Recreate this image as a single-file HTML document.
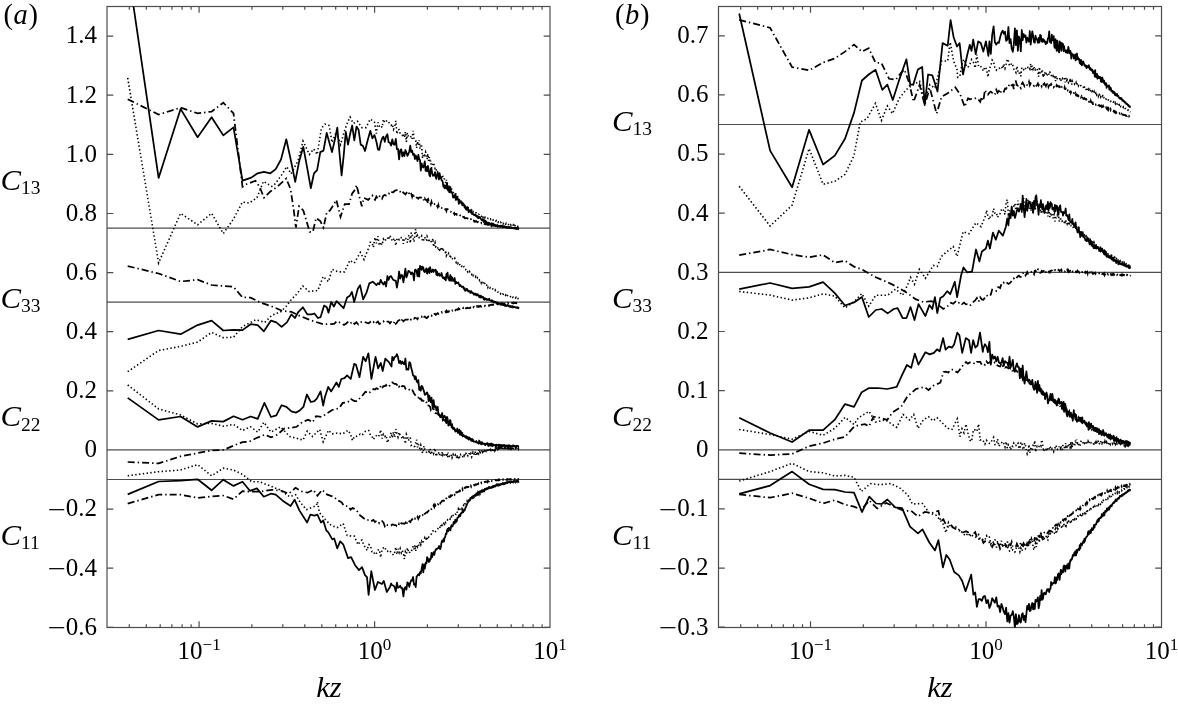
<!DOCTYPE html><html><head><meta charset="utf-8"><title>Figure</title><style>html,body{margin:0;padding:0;background:#fff;}svg{display:block;}text{font-family:"Liberation Serif","Times New Roman",serif;fill:#000;}</style></head><body>
<svg width="1178" height="706" viewBox="0 0 1178 706">
<rect x="0" y="0" width="1178" height="706" fill="#fff"/>
<defs>
<clipPath id="ca"><rect x="107.0" y="6.5" width="443.0" height="621.0"/></clipPath>
<clipPath id="cb"><rect x="718.5" y="6.5" width="443.0" height="621.0"/></clipPath>
</defs>
<g stroke="#4d4d4d" stroke-width="1.20" fill="none">
<rect x="107.0" y="6.5" width="443.0" height="621.0"/>
<path d="M107.0 36.1h6.3M550.0 36.1h-6.3M107.0 95.2h6.3M550.0 95.2h-6.3M107.0 154.3h6.3M550.0 154.3h-6.3M107.0 213.5h6.3M550.0 213.5h-6.3M107.0 272.6h6.3M550.0 272.6h-6.3M107.0 331.7h6.3M550.0 331.7h-6.3M107.0 390.8h6.3M550.0 390.8h-6.3M107.0 449.9h6.3M550.0 449.9h-6.3M107.0 509.1h6.3M550.0 509.1h-6.3M107.0 568.2h6.3M550.0 568.2h-6.3M107.0 627.3h6.3M550.0 627.3h-6.3M129.3 627.5v-3.3M129.3 6.5v3.3M146.3 627.5v-3.3M146.3 6.5v3.3M160.2 627.5v-3.3M160.2 6.5v3.3M171.9 627.5v-3.3M171.9 6.5v3.3M182.1 627.5v-3.3M182.1 6.5v3.3M191.1 627.5v-3.3M191.1 6.5v3.3M199.1 627.5v-6.3M199.1 6.5v6.3M251.9 627.5v-3.3M251.9 6.5v3.3M282.8 627.5v-3.3M282.8 6.5v3.3M304.8 627.5v-3.3M304.8 6.5v3.3M321.8 627.5v-3.3M321.8 6.5v3.3M335.7 627.5v-3.3M335.7 6.5v3.3M347.4 627.5v-3.3M347.4 6.5v3.3M357.6 627.5v-3.3M357.6 6.5v3.3M366.6 627.5v-3.3M366.6 6.5v3.3M374.6 627.5v-6.3M374.6 6.5v6.3M427.4 627.5v-3.3M427.4 6.5v3.3M458.3 627.5v-3.3M458.3 6.5v3.3M480.3 627.5v-3.3M480.3 6.5v3.3M497.3 627.5v-3.3M497.3 6.5v3.3M511.2 627.5v-3.3M511.2 6.5v3.3M522.9 627.5v-3.3M522.9 6.5v3.3M533.1 627.5v-3.3M533.1 6.5v3.3M542.1 627.5v-3.3M542.1 6.5v3.3M107.0 228.2H550.0M107.0 302.1H550.0M107.0 449.9H550.0M107.0 479.5H550.0"/>
</g>
<g stroke="#4d4d4d" stroke-width="1.20" fill="none">
<rect x="718.5" y="6.5" width="443.0" height="621.0"/>
<path d="M718.5 35.8h6.3M1161.5 35.8h-6.3M718.5 94.9h6.3M1161.5 94.9h-6.3M718.5 154.1h6.3M1161.5 154.1h-6.3M718.5 213.2h6.3M1161.5 213.2h-6.3M718.5 272.4h6.3M1161.5 272.4h-6.3M718.5 331.5h6.3M1161.5 331.5h-6.3M718.5 390.6h6.3M1161.5 390.6h-6.3M718.5 449.8h6.3M1161.5 449.8h-6.3M718.5 508.9h6.3M1161.5 508.9h-6.3M718.5 568.1h6.3M1161.5 568.1h-6.3M718.5 627.2h6.3M1161.5 627.2h-6.3M740.7 627.5v-3.3M740.7 6.5v3.3M757.7 627.5v-3.3M757.7 6.5v3.3M771.6 627.5v-3.3M771.6 6.5v3.3M783.3 627.5v-3.3M783.3 6.5v3.3M793.5 627.5v-3.3M793.5 6.5v3.3M802.5 627.5v-3.3M802.5 6.5v3.3M810.5 627.5v-6.3M810.5 6.5v6.3M863.3 627.5v-3.3M863.3 6.5v3.3M894.2 627.5v-3.3M894.2 6.5v3.3M916.2 627.5v-3.3M916.2 6.5v3.3M933.2 627.5v-3.3M933.2 6.5v3.3M947.1 627.5v-3.3M947.1 6.5v3.3M958.8 627.5v-3.3M958.8 6.5v3.3M969.0 627.5v-3.3M969.0 6.5v3.3M978.0 627.5v-3.3M978.0 6.5v3.3M986.0 627.5v-6.3M986.0 6.5v6.3M1038.8 627.5v-3.3M1038.8 6.5v3.3M1069.7 627.5v-3.3M1069.7 6.5v3.3M1091.7 627.5v-3.3M1091.7 6.5v3.3M1108.7 627.5v-3.3M1108.7 6.5v3.3M1122.6 627.5v-3.3M1122.6 6.5v3.3M1134.3 627.5v-3.3M1134.3 6.5v3.3M1144.5 627.5v-3.3M1144.5 6.5v3.3M1153.5 627.5v-3.3M1153.5 6.5v3.3M718.5 124.5H1161.5M718.5 272.4H1161.5M718.5 449.8H1161.5M718.5 479.4H1161.5"/>
</g>
<g clip-path="url(#ca)">
<polyline fill="none" stroke="#000" stroke-width="1.75" stroke-linejoin="round" points="127.7,-33.5 158.6,177.9 180.6,108.9 197.6,137.2 211.6,117.2 223.3,135.4 233.5,127.4 242.5,180.6 251.3,177.6 257.6,173.3 264.0,171.8 270.4,173.3 275.7,169.1 281.0,159.5 286.3,139.3 291.6,163.8 295.2,181.8 299.1,161.6 303.3,146.8 307.6,170.1 310.8,188.2 314.0,173.3 317.1,170.1 320.3,152.1 323.5,150.6 326.7,132.9 329.9,144.6 332.0,152.1 335.2,138.3 337.3,127.6 339.5,153.1 341.6,175.5 343.7,155.3 345.8,131.9 348.0,144.6 350.1,134.0 352.2,125.5 354.3,140.4 356.5,126.6 358.6,129.8 360.7,144.6 362.8,145.7 365.0,151.0 367.1,142.5 370.3,130.8 372.4,138.3 374.5,135.1 376.6,142.5 377.9,149.4 379.3,149.9 380.7,142.8 382.1,138.4 383.4,136.6 384.8,141.8 386.1,136.4 387.4,134.2 388.6,142.3 389.9,142.8 391.1,145.5 392.3,139.4 393.5,144.4 394.6,144.8 395.8,138.8 396.9,149.2 398.0,149.0 399.1,159.4 400.2,150.1 401.3,149.3 402.3,156.4 403.4,152.4 404.4,156.0 405.4,150.0 406.4,152.4 407.4,155.8 408.4,154.0 409.3,151.2 410.3,145.6 411.2,152.2 412.1,150.6 413.1,154.8 414.0,153.9 414.9,159.1 415.7,155.4 416.6,157.8 417.5,161.1 418.3,154.8 419.2,159.1 420.0,160.0 420.8,170.7 421.6,163.3 422.5,166.9 423.3,167.5 424.0,165.0 424.8,161.4 425.6,170.9 426.4,167.0 427.1,171.4 427.9,165.8 428.6,169.3 429.4,175.2 430.1,176.4 430.8,168.6 431.5,169.0 432.2,173.2 432.9,175.9 433.6,174.7 434.3,175.5 435.0,172.2 435.7,177.1 436.4,178.9 437.0,175.0 437.7,172.7 438.4,174.9 439.0,179.5 439.6,173.2 440.3,178.2 440.9,176.8 441.5,180.0 442.2,180.6 442.8,182.2 443.4,186.9 444.0,185.1 444.6,188.3 445.2,185.5 445.8,185.5 446.4,188.5 447.0,182.8 447.6,189.3 448.1,190.5 448.7,187.9 449.3,192.3 449.8,190.6 450.4,187.2 451.0,192.5 451.5,191.5 452.1,193.0 452.6,194.3 453.1,197.6 453.7,195.9 454.2,196.2 454.7,197.5 455.3,193.9 455.8,200.0 456.3,196.4 456.8,199.6 457.3,197.4 457.8,198.2 458.3,199.7 458.8,203.9 459.3,202.4 459.8,200.9 460.3,201.9 460.8,201.1 461.3,203.2 461.8,202.9 462.3,205.3 462.7,202.8 463.2,204.7 463.7,204.5 464.1,205.2 464.6,207.5 465.1,207.2 465.5,208.3 466.0,209.4 466.4,209.7 466.9,207.1 467.3,209.7 467.8,207.5 468.2,209.8 468.7,212.3 469.1,210.4 469.5,210.6 470.0,211.5 470.4,211.7 470.8,212.0 471.2,211.7 471.7,213.7 472.1,213.9 472.5,213.1 472.9,213.9 473.3,214.4 473.7,214.9 474.2,214.7 474.6,215.2 475.0,214.7 475.4,214.4 475.8,215.0 476.2,216.4 476.6,216.6 477.0,216.3 477.4,216.0 477.7,216.9 478.1,218.1 478.5,218.1 478.9,216.9 479.3,217.6 479.7,216.9 480.0,217.3 480.4,218.5 480.8,218.6 481.2,219.5 481.5,219.9 481.9,219.9 482.3,220.4 482.6,219.4 483.0,219.3 483.4,220.5 483.7,222.0 484.1,220.9 484.5,220.1 484.8,221.2 485.2,222.1 485.5,220.8 485.9,222.1 486.2,221.5 486.6,222.8 486.9,222.7 487.3,222.6 487.6,223.8 487.9,222.6 488.3,222.6 488.6,224.3 489.0,222.9 489.3,224.8 489.6,223.8 490.0,223.4 490.3,224.1 490.6,224.2 490.9,224.3 491.3,224.2 491.6,224.9 491.9,223.2 492.2,224.2 492.6,224.5 492.9,225.6 493.2,223.7 493.5,224.6 493.8,224.3 494.2,224.6 494.5,225.3 494.8,225.3 495.1,225.9 495.4,225.0 495.7,225.4 496.0,225.9 496.3,225.9 496.6,225.4 496.9,226.1 497.2,225.2 497.5,226.6 497.8,225.9 498.1,225.8 498.4,226.1 498.7,226.4 499.0,226.8 499.3,226.1 499.6,226.1 499.9,226.5 500.2,226.0 500.5,225.6 500.8,226.7 501.1,226.3 501.3,226.9 501.6,226.1 501.9,225.6 502.2,226.7 502.5,226.7 502.8,227.3 503.0,226.9 503.3,226.8 503.6,227.0 503.9,226.6 504.2,226.8 504.4,226.3 504.7,227.1 505.0,226.6 505.2,226.8 505.5,227.2 505.8,227.3 506.1,226.7 506.3,227.8 506.6,226.9 506.9,227.4 507.1,227.5 507.4,227.3 507.7,227.3 507.9,227.9 508.2,227.6 508.4,227.5 508.7,226.8 509.0,227.2 509.2,227.8 509.5,227.5 509.7,227.2 510.0,227.3 510.2,227.5 510.5,227.8 510.8,227.7 511.0,227.9 511.3,227.5 511.5,228.0 511.8,227.6 512.0,227.7 512.3,228.3 512.5,227.9 512.7,227.9 513.0,227.9 513.2,227.9 513.5,228.4 513.7,228.4 514.0,228.2 514.2,228.1 514.5,228.4 514.7,228.1 514.9,228.3 515.2,228.3 515.4,228.3 515.6,228.6 515.9,228.7 516.1,228.6 516.4,227.9 516.6,228.8 516.8,228.6 517.1,228.4 517.3,228.5 517.5,228.7 517.8,228.8 518.0,228.7 518.2,228.6 518.4,228.6 518.7,228.8 518.9,228.7"/>
<polyline fill="none" stroke="#000" stroke-width="1.6" stroke-dasharray="1.4 2.4" points="127.7,77.9 158.6,262.9 180.6,213.3 197.6,224.8 211.6,213.3 223.3,233.6 233.5,219.0 242.5,202.0 249.1,203.1 257.0,197.7 263.4,181.4 271.9,186.4 275.4,183.6 282.5,173.7 286.7,166.6 291.0,173.7 298.0,160.9 303.0,141.1 309.4,154.5 313.7,148.9 317.2,154.5 321.4,128.3 325.0,124.1 329.2,125.5 332.0,142.5 336.3,131.9 340.5,144.6 344.8,129.8 348.0,121.3 350.1,117.0 353.3,123.4 357.5,121.3 361.8,127.6 366.0,127.6 370.3,119.1 374.5,122.3 376.4,133.6 377.9,122.4 379.3,126.1 380.7,125.1 382.1,127.5 383.4,119.3 384.8,122.7 386.1,121.4 387.4,120.4 388.6,122.0 389.9,123.9 391.1,125.4 392.3,124.0 393.5,129.4 394.6,126.7 395.8,120.9 396.9,134.0 398.0,129.7 399.1,129.6 400.2,134.1 401.3,135.1 402.3,135.5 403.4,133.5 404.4,137.6 405.4,131.9 406.4,141.8 407.4,132.9 408.4,136.3 409.3,137.1 410.3,137.7 411.2,136.2 412.1,138.8 413.1,130.8 414.0,139.1 414.9,140.2 415.7,140.6 416.6,148.0 417.5,141.3 418.3,145.4 419.2,140.5 420.0,148.9 420.8,144.2 421.6,145.7 422.5,158.4 423.3,154.6 424.0,153.7 424.8,155.3 425.6,152.1 426.4,154.3 427.1,159.2 427.9,153.9 428.6,160.8 429.4,157.0 430.1,162.4 430.8,160.5 431.5,167.8 432.2,167.1 432.9,164.6 433.6,162.7 434.3,165.9 435.0,168.3 435.7,167.4 436.4,170.6 437.0,172.7 437.7,171.7 438.4,171.9 439.0,174.7 439.6,173.7 440.3,176.3 440.9,175.3 441.5,179.0 442.2,177.0 442.8,176.6 443.4,179.1 444.0,178.8 444.6,179.2 445.2,181.0 445.8,183.0 446.4,179.9 447.0,183.4 447.6,184.0 448.1,184.7 448.7,186.6 449.3,184.8 449.8,187.9 450.4,187.5 451.0,188.6 451.5,188.9 452.1,189.5 452.6,190.0 453.1,191.6 453.7,194.0 454.2,193.6 454.7,194.0 455.3,194.4 455.8,194.1 456.3,195.7 456.8,197.6 457.3,195.3 457.8,197.8 458.3,198.5 458.8,198.6 459.3,199.6 459.8,200.6 460.3,201.8 460.8,201.8 461.3,202.6 461.8,202.2 462.3,203.2 462.7,203.3 463.2,204.0 463.7,204.1 464.1,205.4 464.6,206.5 465.1,205.8 465.5,206.4 466.0,207.0 466.4,207.0 466.9,207.9 467.3,207.8 467.8,207.3 468.2,207.7 468.7,209.1 469.1,209.4 469.5,209.9 470.0,209.8 470.4,210.1 470.8,209.4 471.2,211.4 471.7,210.4 472.1,211.8 472.5,210.8 472.9,211.3 473.3,211.9 473.7,211.8 474.2,211.9 474.6,212.9 475.0,213.0 475.4,213.1 475.8,212.9 476.2,212.9 476.6,213.3 477.0,213.4 477.4,213.9 477.7,214.4 478.1,214.2 478.5,214.1 478.9,214.4 479.3,215.3 479.7,215.1 480.0,215.3 480.4,215.5 480.8,215.8 481.2,215.8 481.5,216.4 481.9,216.4 482.3,215.4 482.6,216.3 483.0,217.4 483.4,216.2 483.7,216.9 484.1,217.3 484.5,217.1 484.8,217.7 485.2,217.0 485.5,217.1 485.9,217.6 486.2,217.6 486.6,217.6 486.9,218.3 487.3,218.3 487.6,218.4 487.9,218.4 488.3,218.7 488.6,218.7 489.0,218.7 489.3,219.2 489.6,219.3 490.0,219.3 490.3,219.7 490.6,219.2 490.9,219.6 491.3,219.6 491.6,220.3 491.9,220.1 492.2,220.7 492.6,220.7 492.9,220.1 493.2,220.0 493.5,220.6 493.8,220.5 494.2,220.6 494.5,220.4 494.8,221.0 495.1,221.0 495.4,221.1 495.7,221.2 496.0,220.9 496.3,220.6 496.6,221.3 496.9,221.3 497.2,221.4 497.5,221.9 497.8,221.7 498.1,222.3 498.4,222.0 498.7,222.2 499.0,222.3 499.3,222.4 499.6,222.0 499.9,222.7 500.2,222.5 500.5,222.2 500.8,222.7 501.1,222.7 501.3,223.1 501.6,223.0 501.9,223.0 502.2,222.5 502.5,223.4 502.8,223.4 503.0,223.3 503.3,223.3 503.6,223.6 503.9,223.1 504.2,223.6 504.4,223.5 504.7,223.3 505.0,223.7 505.2,223.7 505.5,224.1 505.8,224.0 506.1,223.4 506.3,223.4 506.6,224.0 506.9,224.0 507.1,223.9 507.4,223.8 507.7,224.2 507.9,224.0 508.2,224.2 508.4,224.6 508.7,224.5 509.0,224.4 509.2,224.3 509.5,224.6 509.7,225.1 510.0,224.7 510.2,225.2 510.5,224.7 510.8,224.9 511.0,225.2 511.3,224.9 511.5,225.1 511.8,224.9 512.0,225.4 512.3,225.6 512.5,225.2 512.7,225.5 513.0,225.4 513.2,225.1 513.5,226.1 513.7,225.8 514.0,225.9 514.2,225.9 514.5,225.9 514.7,226.4 514.9,225.6 515.2,225.9 515.4,226.0 515.6,226.1 515.9,226.3 516.1,226.1 516.4,226.0 516.6,226.1 516.8,226.5 517.1,226.6 517.3,226.7 517.5,226.9 517.8,226.5 518.0,226.9 518.2,226.8 518.4,226.7 518.7,226.7 518.9,227.0"/>
<polyline fill="none" stroke="#000" stroke-width="1.75" stroke-dasharray="7 3 1.4 3" points="127.7,99.2 158.6,114.6 180.6,107.7 197.6,113.3 211.6,111.6 223.3,102.7 233.5,113.3 242.5,186.8 247.0,184.0 255.5,180.8 259.8,187.1 264.0,197.8 270.4,191.4 276.8,187.1 286.3,178.6 290.6,189.3 293.8,210.5 295.9,227.5 299.1,206.3 303.3,210.5 309.7,231.8 312.9,231.8 316.1,218.0 320.3,221.1 323.5,227.5 326.7,212.6 329.9,210.5 334.1,204.1 336.3,199.9 340.5,216.9 344.8,204.1 349.0,204.1 352.2,193.5 355.4,189.3 356.5,185.0 358.6,193.5 361.8,206.3 363.9,197.8 368.2,199.9 372.4,195.6 373.4,198.1 375.0,199.9 376.4,196.5 377.9,198.8 379.3,196.5 380.7,196.0 382.1,198.6 383.4,195.7 384.8,194.9 386.1,195.5 387.4,195.5 388.6,193.5 389.9,193.9 391.1,191.6 392.3,192.3 393.5,192.1 394.6,190.8 395.8,190.4 396.9,190.2 398.0,191.9 399.1,191.9 400.2,191.7 401.3,192.4 402.3,191.0 403.4,192.8 404.4,193.5 405.4,194.4 406.4,192.8 407.4,193.6 408.4,191.9 409.3,194.0 410.3,192.2 411.2,193.5 412.1,196.8 413.1,193.2 414.0,197.0 414.9,196.8 415.7,196.3 416.6,197.5 417.5,197.8 418.3,198.7 419.2,197.5 420.0,197.4 420.8,197.7 421.6,197.6 422.5,199.1 423.3,198.7 424.0,201.0 424.8,198.5 425.6,199.7 426.4,200.3 427.1,199.7 427.9,203.7 428.6,200.2 429.4,202.3 430.1,202.4 430.8,204.5 431.5,201.8 432.2,204.5 432.9,203.4 433.6,204.1 434.3,204.0 435.0,205.2 435.7,204.3 436.4,205.3 437.0,205.9 437.7,207.2 438.4,204.9 439.0,207.6 439.6,207.6 440.3,207.1 440.9,207.8 441.5,207.7 442.2,209.2 442.8,208.7 443.4,208.7 444.0,208.9 444.6,209.1 445.2,209.4 445.8,209.2 446.4,211.0 447.0,209.1 447.6,209.1 448.1,210.5 448.7,210.7 449.3,211.2 449.8,211.1 450.4,211.4 451.0,211.9 451.5,212.5 452.1,212.1 452.6,212.4 453.1,213.8 453.7,213.3 454.2,212.9 454.7,214.7 455.3,214.2 455.8,213.9 456.3,213.9 456.8,214.8 457.3,214.5 457.8,214.6 458.3,214.7 458.8,215.3 459.3,216.2 459.8,215.7 460.3,215.4 460.8,216.5 461.3,216.4 461.8,217.0 462.3,217.3 462.7,216.9 463.2,217.1 463.7,217.3 464.1,217.0 464.6,217.9 465.1,218.4 465.5,218.1 466.0,218.1 466.4,218.2 466.9,218.2 467.3,218.3 467.8,218.7 468.2,218.7 468.7,219.0 469.1,218.7 469.5,219.6 470.0,219.7 470.4,219.4 470.8,219.1 471.2,220.1 471.7,220.7 472.1,220.2 472.5,220.4 472.9,220.5 473.3,221.0 473.7,220.6 474.2,221.4 474.6,221.1 475.0,221.6 475.4,221.4 475.8,221.5 476.2,221.1 476.6,221.5 477.0,221.8 477.4,222.3 477.7,222.2 478.1,222.0 478.5,222.5 478.9,222.8 479.3,222.6 479.7,222.6 480.0,222.7 480.4,223.2 480.8,223.3 481.2,222.9 481.5,223.4 481.9,223.2 482.3,223.2 482.6,223.9 483.0,223.8 483.4,223.4 483.7,223.7 484.1,223.9 484.5,223.6 484.8,223.9 485.2,224.2 485.5,223.5 485.9,224.2 486.2,224.4 486.6,224.4 486.9,223.9 487.3,224.5 487.6,224.2 487.9,224.7 488.3,224.8 488.6,224.7 489.0,224.5 489.3,224.6 489.6,225.1 490.0,224.7 490.3,225.1 490.6,225.2 490.9,225.0 491.3,225.8 491.6,225.2 491.9,225.8 492.2,224.7 492.6,224.7 492.9,225.6 493.2,225.6 493.5,225.4 493.8,225.5 494.2,225.1 494.5,225.4 494.8,225.4 495.1,225.6 495.4,225.9 495.7,225.8 496.0,225.9 496.3,225.7 496.6,225.8 496.9,225.9 497.2,225.9 497.5,226.3 497.8,225.8 498.1,226.5 498.4,225.9 498.7,226.4 499.0,226.0 499.3,226.6 499.6,226.3 499.9,226.4 500.2,226.5 500.5,226.3 500.8,226.2 501.1,226.0 501.3,226.8 501.6,226.4 501.9,226.5 502.2,226.6 502.5,227.1 502.8,226.3 503.0,226.8 503.3,226.7 503.6,226.9 503.9,226.5 504.2,226.8 504.4,227.0 504.7,227.2 505.0,227.2 505.2,226.8 505.5,227.0 505.8,227.0 506.1,226.8 506.3,226.8 506.6,227.3 506.9,227.2 507.1,227.2 507.4,227.4 507.7,227.1 507.9,227.4 508.2,227.3 508.4,227.3 508.7,227.5 509.0,227.5 509.2,227.5 509.5,227.5 509.7,227.8 510.0,227.5 510.2,227.7 510.5,227.7 510.8,227.6 511.0,227.8 511.3,227.6 511.5,227.9 511.8,227.7 512.0,227.7 512.3,227.9 512.5,228.0 512.7,228.0 513.0,228.1 513.2,227.9 513.5,227.9 513.7,228.1 514.0,228.1 514.2,228.0 514.5,228.3 514.7,228.2 514.9,228.1 515.2,228.3 515.4,228.1 515.6,228.2 515.9,228.4 516.1,228.1 516.4,228.4 516.6,228.2 516.8,228.5 517.1,228.4 517.3,228.5 517.5,228.3 517.8,228.5 518.0,228.7 518.2,228.7 518.4,228.4 518.7,228.8 518.9,228.8"/>
<polyline fill="none" stroke="#000" stroke-width="1.75" stroke-linejoin="round" points="127.7,339.3 158.6,330.5 180.6,334.2 197.6,325.1 211.6,320.7 223.3,330.5 233.5,329.8 242.5,330.1 250.6,324.2 257.7,325.1 263.9,331.3 271.0,320.6 276.3,322.4 281.6,326.8 286.9,322.4 291.4,314.4 294.9,318.0 298.4,311.8 302.9,307.3 307.3,314.4 311.7,314.4 314.4,313.5 317.9,318.0 320.6,317.1 324.1,305.6 326.8,307.3 328.5,312.7 331.2,302.0 333.9,306.5 336.5,301.1 340.1,304.7 343.6,308.2 347.1,297.6 349.8,295.8 351.9,291.9 354.2,302.0 357.8,288.8 360.1,285.2 363.1,299.4 366.6,292.3 369.3,283.4 372.8,281.7 376.4,285.2 377.9,283.2 379.3,284.4 380.7,279.8 382.1,282.8 383.4,284.6 384.8,281.8 386.1,286.5 387.4,276.0 388.6,279.9 389.9,276.5 391.1,276.1 392.3,278.4 393.5,280.0 394.6,280.6 395.8,280.7 396.9,287.6 398.0,281.7 399.1,271.5 400.2,278.6 401.3,275.0 402.3,275.3 403.4,282.4 404.4,276.0 405.4,268.7 406.4,277.4 407.4,274.6 408.4,270.8 409.3,271.4 410.3,272.3 411.2,274.3 412.1,272.4 413.1,274.0 414.0,280.5 414.9,270.0 415.7,269.6 416.6,271.4 417.5,276.1 418.3,268.9 419.2,276.7 420.0,265.9 420.8,266.6 421.6,269.9 422.5,266.7 423.3,267.5 424.0,271.3 424.8,272.2 425.6,269.8 426.4,268.3 427.1,273.7 427.9,270.3 428.6,268.5 429.4,273.2 430.1,267.1 430.8,270.5 431.5,272.1 432.2,270.6 432.9,269.4 433.6,272.0 434.3,270.1 435.0,270.3 435.7,269.7 436.4,275.0 437.0,271.5 437.7,275.5 438.4,274.4 439.0,273.5 439.6,275.8 440.3,275.4 440.9,275.5 441.5,273.0 442.2,276.2 442.8,277.9 443.4,277.2 444.0,278.2 444.6,279.2 445.2,277.3 445.8,280.3 446.4,274.0 447.0,276.4 447.6,272.6 448.1,278.5 448.7,277.6 449.3,280.7 449.8,277.5 450.4,275.0 451.0,280.9 451.5,276.8 452.1,277.3 452.6,279.4 453.1,281.0 453.7,279.5 454.2,280.9 454.7,278.0 455.3,283.9 455.8,281.5 456.3,282.1 456.8,283.2 457.3,283.0 457.8,283.4 458.3,282.3 458.8,283.8 459.3,284.9 459.8,286.1 460.3,285.0 460.8,285.7 461.3,286.3 461.8,287.0 462.3,286.8 462.7,286.6 463.2,286.7 463.7,288.8 464.1,288.2 464.6,288.2 465.1,290.9 465.5,289.6 466.0,289.9 466.4,289.5 466.9,288.7 467.3,290.9 467.8,290.0 468.2,290.4 468.7,291.4 469.1,291.6 469.5,291.2 470.0,291.2 470.4,293.0 470.8,292.1 471.2,291.1 471.7,292.6 472.1,292.4 472.5,292.5 472.9,293.2 473.3,293.1 473.7,294.6 474.2,293.5 474.6,293.7 475.0,294.6 475.4,293.6 475.8,294.9 476.2,294.3 476.6,295.4 477.0,294.2 477.4,295.3 477.7,294.1 478.1,295.1 478.5,295.6 478.9,296.1 479.3,297.2 479.7,297.3 480.0,295.4 480.4,296.0 480.8,297.5 481.2,297.1 481.5,296.2 481.9,297.5 482.3,296.7 482.6,297.0 483.0,296.9 483.4,297.7 483.7,299.4 484.1,298.4 484.5,298.2 484.8,299.8 485.2,298.3 485.5,298.6 485.9,298.7 486.2,299.2 486.6,298.9 486.9,300.0 487.3,299.2 487.6,299.8 487.9,299.7 488.3,299.2 488.6,299.3 489.0,300.0 489.3,298.8 489.6,300.2 490.0,300.4 490.3,300.6 490.6,300.6 490.9,300.9 491.3,300.7 491.6,301.3 491.9,300.2 492.2,301.7 492.6,300.9 492.9,301.7 493.2,301.3 493.5,301.4 493.8,301.4 494.2,302.6 494.5,301.5 494.8,301.5 495.1,302.3 495.4,302.5 495.7,302.5 496.0,302.1 496.3,302.4 496.6,303.2 496.9,302.4 497.2,303.3 497.5,303.4 497.8,303.2 498.1,302.7 498.4,304.2 498.7,303.5 499.0,303.6 499.3,303.4 499.6,303.3 499.9,303.7 500.2,304.0 500.5,303.6 500.8,304.1 501.1,304.6 501.3,304.4 501.6,304.3 501.9,304.8 502.2,304.9 502.5,304.9 502.8,304.3 503.0,304.0 503.3,305.1 503.6,304.9 503.9,304.8 504.2,305.2 504.4,304.9 504.7,304.9 505.0,305.9 505.2,304.6 505.5,305.7 505.8,305.8 506.1,306.1 506.3,305.6 506.6,305.8 506.9,305.3 507.1,305.7 507.4,304.9 507.7,305.6 507.9,305.8 508.2,305.9 508.4,305.8 508.7,306.4 509.0,305.5 509.2,306.2 509.5,306.0 509.7,306.2 510.0,306.3 510.2,307.0 510.5,306.0 510.8,306.9 511.0,307.0 511.3,306.5 511.5,306.4 511.8,306.2 512.0,306.4 512.3,307.4 512.5,306.1 512.7,307.0 513.0,306.7 513.2,307.5 513.5,307.1 513.7,306.6 514.0,306.9 514.2,307.2 514.5,307.2 514.7,306.9 514.9,307.2 515.2,307.2 515.4,307.5 515.6,307.5 515.9,307.5 516.1,307.3 516.4,307.7 516.6,307.4 516.8,307.4 517.1,307.5 517.3,307.6 517.5,307.7 517.8,307.3 518.0,308.2 518.2,308.0 518.4,308.3 518.7,307.9 518.9,308.2"/>
<polyline fill="none" stroke="#000" stroke-width="1.6" stroke-dasharray="1.4 2.4" points="127.7,371.7 158.6,350.5 180.6,346.4 197.6,342.1 211.6,332.4 223.3,337.7 233.5,337.2 242.5,326.6 255.9,319.7 264.8,322.4 271.9,315.3 280.7,311.8 286.0,306.5 291.4,299.4 296.7,294.1 302.9,286.1 309.1,291.4 317.9,290.5 323.2,276.4 328.5,281.7 332.1,269.3 338.3,271.9 344.5,271.9 349.8,260.4 354.2,263.1 360.4,252.4 364.0,259.5 369.3,246.3 370.3,242.3 371.9,242.4 373.4,247.3 375.0,237.4 376.4,243.3 377.9,236.1 379.3,245.6 380.7,242.1 382.1,245.0 383.4,239.1 384.8,241.4 386.1,239.1 387.4,237.5 388.6,239.8 389.9,235.4 391.1,238.0 392.3,241.2 393.5,239.4 394.6,238.1 395.8,245.6 396.9,239.6 398.0,237.8 399.1,239.6 400.2,237.4 401.3,237.6 402.3,237.4 403.4,243.8 404.4,238.0 405.4,238.2 406.4,239.3 407.4,242.7 408.4,236.4 409.3,235.1 410.3,243.1 411.2,232.5 412.1,235.2 413.1,237.8 414.0,241.9 414.9,233.1 415.7,229.2 416.6,237.6 417.5,234.7 418.3,235.3 419.2,237.7 420.0,237.3 420.8,237.7 421.6,236.1 422.5,240.7 423.3,241.5 424.0,238.1 424.8,237.1 425.6,240.4 426.4,240.1 427.1,236.5 427.9,238.3 428.6,242.3 429.4,239.8 430.1,239.7 430.8,241.5 431.5,241.5 432.2,242.1 432.9,238.3 433.6,246.9 434.3,244.1 435.0,242.4 435.7,246.6 436.4,245.7 437.0,245.7 437.7,248.0 438.4,250.5 439.0,248.0 439.6,250.1 440.3,251.4 440.9,247.0 441.5,248.3 442.2,250.6 442.8,247.7 443.4,250.1 444.0,252.4 444.6,252.6 445.2,252.6 445.8,250.4 446.4,255.5 447.0,254.1 447.6,254.8 448.1,255.1 448.7,253.3 449.3,254.1 449.8,254.8 450.4,258.4 451.0,256.2 451.5,257.3 452.1,257.8 452.6,259.0 453.1,259.4 453.7,259.7 454.2,258.8 454.7,258.2 455.3,260.9 455.8,261.5 456.3,262.7 456.8,262.1 457.3,262.1 457.8,263.4 458.3,262.2 458.8,263.0 459.3,263.4 459.8,264.8 460.3,266.4 460.8,265.8 461.3,266.4 461.8,266.2 462.3,266.5 462.7,266.4 463.2,266.9 463.7,265.8 464.1,267.0 464.6,267.3 465.1,269.0 465.5,269.3 466.0,269.9 466.4,270.6 466.9,269.9 467.3,271.0 467.8,271.9 468.2,271.2 468.7,272.2 469.1,271.9 469.5,271.5 470.0,272.8 470.4,272.7 470.8,273.5 471.2,273.6 471.7,274.4 472.1,273.6 472.5,275.9 472.9,275.9 473.3,275.4 473.7,275.4 474.2,276.1 474.6,276.8 475.0,276.9 475.4,277.2 475.8,276.4 476.2,277.1 476.6,278.5 477.0,278.3 477.4,277.8 477.7,278.4 478.1,278.5 478.5,278.9 478.9,280.2 479.3,279.9 479.7,280.7 480.0,280.6 480.4,280.2 480.8,280.8 481.2,282.4 481.5,281.3 481.9,281.5 482.3,282.7 482.6,282.5 483.0,282.7 483.4,283.6 483.7,282.6 484.1,283.7 484.5,283.4 484.8,283.5 485.2,284.0 485.5,285.1 485.9,284.8 486.2,284.4 486.6,284.9 486.9,286.2 487.3,286.2 487.6,285.6 487.9,287.2 488.3,286.3 488.6,286.2 489.0,286.8 489.3,287.4 489.6,287.9 490.0,287.9 490.3,287.5 490.6,287.7 490.9,287.6 491.3,288.3 491.6,288.3 491.9,288.8 492.2,288.5 492.6,289.0 492.9,289.0 493.2,289.1 493.5,289.3 493.8,289.5 494.2,289.6 494.5,290.4 494.8,290.4 495.1,290.0 495.4,290.8 495.7,290.9 496.0,291.5 496.3,291.1 496.6,291.2 496.9,291.2 497.2,291.6 497.5,291.9 497.8,292.0 498.1,292.0 498.4,292.4 498.7,292.4 499.0,292.6 499.3,292.4 499.6,292.9 499.9,292.6 500.2,292.8 500.5,293.3 500.8,294.0 501.1,293.8 501.3,293.5 501.6,293.6 501.9,294.1 502.2,294.3 502.5,294.3 502.8,294.0 503.0,294.2 503.3,294.2 503.6,294.3 503.9,294.2 504.2,294.5 504.4,294.1 504.7,294.4 505.0,295.0 505.2,294.7 505.5,295.2 505.8,294.8 506.1,295.2 506.3,295.5 506.6,295.2 506.9,295.4 507.1,296.3 507.4,295.6 507.7,295.7 507.9,295.8 508.2,296.0 508.4,296.0 508.7,296.4 509.0,296.4 509.2,296.1 509.5,296.2 509.7,296.0 510.0,296.1 510.2,296.3 510.5,296.7 510.8,296.7 511.0,296.9 511.3,297.0 511.5,296.8 511.8,297.4 512.0,296.8 512.3,296.9 512.5,297.0 512.7,297.4 513.0,297.2 513.2,297.1 513.5,297.4 513.7,297.6 514.0,297.4 514.2,297.4 514.5,297.8 514.7,297.8 514.9,297.9 515.2,297.6 515.4,297.9 515.6,298.0 515.9,297.6 516.1,298.3 516.4,298.1 516.6,298.1 516.8,298.7 517.1,298.3 517.3,298.2 517.5,298.4 517.8,298.5 518.0,298.7 518.2,298.5 518.4,298.4 518.7,298.5 518.9,298.6"/>
<polyline fill="none" stroke="#000" stroke-width="1.75" stroke-dasharray="7 3 1.4 3" points="127.7,266.1 158.6,273.5 180.6,281.5 197.6,279.7 211.6,285.0 223.3,286.0 233.5,286.8 242.5,297.4 250.6,297.6 261.3,302.9 271.9,306.5 282.5,310.9 291.4,311.8 298.4,315.3 307.3,318.9 314.4,321.5 323.2,324.2 332.1,324.2 334.4,323.6 336.9,321.1 339.4,322.4 341.7,323.4 344.0,325.0 346.2,323.5 348.4,321.5 350.5,323.4 352.5,321.6 354.5,324.0 356.4,322.3 358.3,324.5 360.1,322.6 361.9,321.8 363.7,321.5 365.4,322.3 367.1,322.8 368.7,323.2 370.3,321.9 371.9,320.9 373.4,322.3 375.0,320.5 376.4,322.6 377.9,321.5 379.3,323.9 380.7,323.4 382.1,322.7 383.4,321.3 384.8,322.7 386.1,322.4 387.4,321.5 388.6,321.5 389.9,323.4 391.1,321.9 392.3,322.8 393.5,323.8 394.6,321.0 395.8,323.8 396.9,322.7 398.0,320.9 399.1,320.3 400.2,319.8 401.3,321.5 402.3,318.3 403.4,321.2 404.4,320.3 405.4,319.5 406.4,319.5 407.4,319.5 408.4,319.5 409.3,320.2 410.3,318.6 411.2,319.9 412.1,319.6 413.1,318.4 414.0,318.8 414.9,317.7 415.7,318.0 416.6,318.2 417.5,319.2 418.3,317.7 419.2,317.5 420.0,317.6 420.8,317.3 421.6,316.7 422.5,318.5 423.3,316.8 424.0,316.8 424.8,316.5 425.6,317.3 426.4,318.1 427.1,318.0 427.9,316.9 428.6,316.4 429.4,316.1 430.1,315.4 430.8,316.2 431.5,315.6 432.2,316.6 432.9,315.2 433.6,314.6 434.3,314.0 435.0,313.8 435.7,314.9 436.4,314.5 437.0,313.6 437.7,313.2 438.4,313.9 439.0,313.4 439.6,313.5 440.3,313.2 440.9,312.6 441.5,312.0 442.2,312.7 442.8,312.6 443.4,312.5 444.0,312.7 444.6,312.6 445.2,311.8 445.8,312.2 446.4,310.8 447.0,312.0 447.6,311.5 448.1,311.9 448.7,311.7 449.3,310.8 449.8,311.0 450.4,311.4 451.0,310.6 451.5,310.8 452.1,310.4 452.6,310.8 453.1,310.5 453.7,310.0 454.2,309.7 454.7,309.3 455.3,310.3 455.8,309.7 456.3,309.5 456.8,309.5 457.3,309.3 457.8,309.7 458.3,309.6 458.8,308.5 459.3,309.2 459.8,309.1 460.3,308.9 460.8,309.0 461.3,309.4 461.8,308.9 462.3,309.1 462.7,309.0 463.2,308.1 463.7,309.1 464.1,308.6 464.6,308.3 465.1,308.6 465.5,309.0 466.0,308.0 466.4,308.0 466.9,308.2 467.3,307.6 467.8,307.7 468.2,308.0 468.7,308.1 469.1,308.0 469.5,308.0 470.0,308.0 470.4,307.5 470.8,307.4 471.2,307.4 471.7,307.3 472.1,307.6 472.5,307.5 472.9,306.7 473.3,307.3 473.7,306.8 474.2,306.7 474.6,307.3 475.0,307.2 475.4,307.1 475.8,306.9 476.2,307.1 476.6,306.4 477.0,306.8 477.4,306.3 477.7,306.3 478.1,306.0 478.5,306.8 478.9,306.8 479.3,306.5 479.7,306.1 480.0,306.3 480.4,305.9 480.8,306.1 481.2,306.5 481.5,306.5 481.9,306.2 482.3,306.2 482.6,305.9 483.0,306.0 483.4,305.9 483.7,306.0 484.1,305.7 484.5,306.0 484.8,305.7 485.2,305.8 485.5,305.7 485.9,306.0 486.2,305.8 486.6,305.4 486.9,305.3 487.3,305.6 487.6,305.4 487.9,305.3 488.3,305.4 488.6,305.6 489.0,305.2 489.3,305.5 489.6,305.0 490.0,305.0 490.3,305.1 490.6,305.0 490.9,304.8 491.3,304.7 491.6,304.8 491.9,304.7 492.2,304.7 492.6,304.9 492.9,304.7 493.2,304.8 493.5,304.6 493.8,304.6 494.2,304.6 494.5,304.5 494.8,304.5 495.1,304.2 495.4,304.4 495.7,304.3 496.0,304.4 496.3,304.3 496.6,304.0 496.9,304.2 497.2,304.2 497.5,304.1 497.8,304.3 498.1,304.0 498.4,303.7 498.7,304.0 499.0,304.0 499.3,303.7 499.6,304.0 499.9,303.4 500.2,304.1 500.5,303.5 500.8,303.6 501.1,303.6 501.3,303.4 501.6,303.7 501.9,303.5 502.2,303.4 502.5,303.2 502.8,303.6 503.0,303.7 503.3,303.4 503.6,303.5 503.9,303.7 504.2,303.5 504.4,303.6 504.7,303.5 505.0,303.5 505.2,303.4 505.5,303.5 505.8,303.3 506.1,303.3 506.3,303.2 506.6,302.9 506.9,303.1 507.1,303.2 507.4,303.4 507.7,303.1 507.9,302.9 508.2,303.3 508.4,303.3 508.7,303.2 509.0,303.2 509.2,303.1 509.5,303.1 509.7,303.3 510.0,302.9 510.2,302.9 510.5,302.8 510.8,302.9 511.0,302.9 511.3,302.9 511.5,303.0 511.8,303.1 512.0,302.8 512.3,303.0 512.5,302.8 512.7,302.8 513.0,302.8 513.2,303.0 513.5,302.7 513.7,303.1 514.0,302.9 514.2,302.8 514.5,302.7 514.7,303.0 514.9,303.0 515.2,303.0 515.4,302.9 515.6,303.1 515.9,303.1 516.1,303.2 516.4,302.9 516.6,303.0 516.8,302.9 517.1,302.9 517.3,302.9 517.5,302.9 517.8,302.9 518.0,302.9 518.2,302.9 518.4,302.9 518.7,302.9 518.9,302.8"/>
<polyline fill="none" stroke="#000" stroke-width="1.75" stroke-linejoin="round" points="127.7,397.9 158.6,419.9 180.6,416.5 197.6,426.9 211.6,420.9 223.3,421.6 233.5,416.3 242.5,419.8 250.6,416.5 257.7,418.8 264.4,402.9 271.0,417.0 276.3,415.3 281.6,405.2 286.4,406.9 291.4,411.4 295.8,412.6 299.3,410.8 303.4,406.9 306.9,394.5 310.8,402.0 314.4,401.1 317.0,398.4 320.6,391.4 323.2,405.5 325.0,396.7 328.2,386.9 331.2,391.4 336.5,382.5 338.8,386.9 341.3,379.0 344.5,378.1 347.1,375.4 350.7,379.0 354.2,363.9 356.0,364.8 359.5,377.2 363.1,356.8 365.7,361.3 368.4,353.3 371.4,379.0 375.5,356.8 378.1,368.3 380.8,363.0 382.7,371.0 385.3,358.6 388.9,362.1 391.5,366.6 392.3,356.9 393.5,360.2 394.6,357.0 395.8,356.7 396.9,354.1 398.0,357.1 399.1,363.2 400.2,360.9 401.3,363.9 402.3,361.5 403.4,363.7 404.4,364.3 405.4,358.5 406.4,369.7 407.4,369.0 408.4,369.7 409.3,362.1 410.3,362.9 411.2,367.8 412.1,371.0 413.1,375.5 414.0,375.8 414.9,379.2 415.7,376.3 416.6,381.0 417.5,382.6 418.3,380.2 419.2,389.9 420.0,387.2 420.8,390.7 421.6,385.8 422.5,386.7 423.3,389.4 424.0,391.4 424.8,394.9 425.6,394.5 426.4,393.2 427.1,392.4 427.9,394.7 428.6,401.1 429.4,395.6 430.1,400.1 430.8,402.1 431.5,397.7 432.2,403.8 432.9,408.8 433.6,400.2 434.3,405.9 435.0,407.3 435.7,406.1 436.4,410.5 437.0,409.8 437.7,406.9 438.4,413.7 439.0,414.0 439.6,415.4 440.3,417.3 440.9,415.4 441.5,415.6 442.2,413.0 442.8,418.1 443.4,416.0 444.0,417.1 444.6,415.9 445.2,417.2 445.8,418.8 446.4,423.2 447.0,416.9 447.6,418.7 448.1,422.7 448.7,425.6 449.3,424.5 449.8,420.4 450.4,420.1 451.0,425.7 451.5,424.3 452.1,424.2 452.6,428.4 453.1,429.1 453.7,428.0 454.2,428.7 454.7,429.4 455.3,431.6 455.8,430.5 456.3,430.7 456.8,431.1 457.3,428.5 457.8,432.9 458.3,432.8 458.8,432.6 459.3,429.7 459.8,431.8 460.3,434.0 460.8,431.2 461.3,433.5 461.8,435.3 462.3,432.9 462.7,436.5 463.2,435.6 463.7,435.1 464.1,435.9 464.6,436.5 465.1,436.3 465.5,437.6 466.0,436.1 466.4,436.6 466.9,438.3 467.3,437.6 467.8,437.0 468.2,439.0 468.7,439.7 469.1,438.2 469.5,437.6 470.0,438.9 470.4,439.1 470.8,439.2 471.2,440.7 471.7,439.1 472.1,441.0 472.5,439.4 472.9,439.9 473.3,441.1 473.7,441.6 474.2,441.7 474.6,441.5 475.0,441.6 475.4,441.8 475.8,442.2 476.2,441.8 476.6,442.2 477.0,442.5 477.4,442.2 477.7,442.8 478.1,442.8 478.5,443.7 478.9,442.8 479.3,442.5 479.7,442.6 480.0,442.9 480.4,443.5 480.8,442.9 481.2,443.4 481.5,444.3 481.9,442.1 482.3,442.9 482.6,443.7 483.0,443.9 483.4,443.8 483.7,443.5 484.1,444.1 484.5,444.0 484.8,443.6 485.2,445.2 485.5,444.1 485.9,443.7 486.2,444.0 486.6,444.0 486.9,444.1 487.3,443.0 487.6,444.0 487.9,444.8 488.3,443.7 488.6,444.3 489.0,444.9 489.3,444.8 489.6,445.2 490.0,443.7 490.3,444.4 490.6,444.4 490.9,444.9 491.3,445.1 491.6,443.5 491.9,445.2 492.2,444.1 492.6,445.0 492.9,444.1 493.2,444.9 493.5,445.3 493.8,444.8 494.2,445.0 494.5,445.2 494.8,445.0 495.1,444.9 495.4,445.6 495.7,445.4 496.0,444.9 496.3,446.1 496.6,444.6 496.9,445.5 497.2,445.0 497.5,445.2 497.8,445.5 498.1,445.3 498.4,445.5 498.7,444.7 499.0,444.7 499.3,445.5 499.6,445.0 499.9,445.0 500.2,444.8 500.5,445.9 500.8,445.7 501.1,446.0 501.3,445.1 501.6,445.5 501.9,445.1 502.2,445.8 502.5,446.1 502.8,445.2 503.0,446.1 503.3,445.9 503.6,445.5 503.9,444.9 504.2,446.1 504.4,445.6 504.7,445.4 505.0,445.7 505.2,445.8 505.5,446.1 505.8,445.3 506.1,446.0 506.3,446.2 506.6,446.2 506.9,445.6 507.1,445.5 507.4,446.0 507.7,445.8 507.9,445.8 508.2,446.2 508.4,445.7 508.7,445.1 509.0,445.7 509.2,445.3 509.5,446.1 509.7,445.9 510.0,445.7 510.2,445.9 510.5,446.1 510.8,445.9 511.0,446.3 511.3,445.9 511.5,446.2 511.8,446.3 512.0,446.4 512.3,445.8 512.5,446.2 512.7,445.5 513.0,445.7 513.2,445.5 513.5,446.3 513.7,445.7 514.0,446.0 514.2,446.0 514.5,446.0 514.7,445.9 514.9,446.1 515.2,446.5 515.4,446.1 515.6,446.2 515.9,446.3 516.1,446.1 516.4,445.9 516.6,446.0 516.8,446.4 517.1,445.8 517.3,446.1 517.5,446.4 517.8,446.4 518.0,446.2 518.2,446.4 518.4,446.3 518.7,446.0 518.9,445.9"/>
<polyline fill="none" stroke="#000" stroke-width="1.6" stroke-dasharray="1.4 2.4" points="127.7,385.0 158.6,408.9 180.6,415.0 197.6,423.9 211.6,423.4 223.3,426.2 233.5,424.4 242.5,430.5 250.6,426.8 257.7,432.1 263.9,422.3 271.0,432.1 280.7,426.8 289.6,436.5 296.7,438.3 302.9,440.1 307.3,431.2 312.6,436.5 319.7,429.4 323.2,441.8 328.5,430.3 332.1,433.9 337.4,433.0 342.7,433.9 348.0,430.3 350.5,434.2 352.5,440.5 354.5,436.4 356.4,436.4 358.3,435.0 360.1,434.2 361.9,435.3 363.7,433.4 365.4,431.4 367.1,431.1 368.7,430.5 370.3,435.0 371.9,436.2 373.4,439.5 375.0,436.3 376.4,435.8 377.9,437.1 379.3,435.2 380.7,429.8 382.1,438.6 383.4,434.3 384.8,436.5 386.1,435.1 387.4,442.7 388.6,439.5 389.9,437.5 391.1,432.5 392.3,437.8 393.5,432.0 394.6,437.4 395.8,429.0 396.9,433.5 398.0,437.0 399.1,432.3 400.2,435.6 401.3,436.3 402.3,439.0 403.4,435.6 404.4,439.4 405.4,443.7 406.4,434.4 407.4,436.7 408.4,440.8 409.3,438.5 410.3,437.4 411.2,445.4 412.1,444.9 413.1,445.9 414.0,446.5 414.9,446.2 415.7,442.9 416.6,439.6 417.5,447.3 418.3,444.0 419.2,447.3 420.0,448.6 420.8,445.2 421.6,447.9 422.5,453.3 423.3,451.3 424.0,446.0 424.8,449.6 425.6,450.4 426.4,452.0 427.1,452.6 427.9,451.1 428.6,451.0 429.4,453.7 430.1,448.9 430.8,454.6 431.5,453.1 432.2,451.4 432.9,451.4 433.6,453.3 434.3,449.9 435.0,448.3 435.7,454.1 436.4,456.4 437.0,453.2 437.7,453.7 438.4,453.7 439.0,451.9 439.6,454.6 440.3,455.5 440.9,454.1 441.5,455.8 442.2,452.2 442.8,454.7 443.4,452.9 444.0,453.5 444.6,455.0 445.2,455.0 445.8,456.4 446.4,456.2 447.0,453.0 447.6,457.5 448.1,452.7 448.7,455.4 449.3,456.2 449.8,455.7 450.4,456.8 451.0,456.1 451.5,454.4 452.1,457.4 452.6,455.9 453.1,454.5 453.7,456.1 454.2,456.0 454.7,456.5 455.3,455.1 455.8,456.3 456.3,455.7 456.8,458.5 457.3,455.4 457.8,458.0 458.3,455.8 458.8,457.6 459.3,459.3 459.8,455.2 460.3,455.9 460.8,454.3 461.3,454.5 461.8,454.7 462.3,455.6 462.7,456.7 463.2,456.6 463.7,454.6 464.1,455.4 464.6,453.1 465.1,455.9 465.5,454.7 466.0,453.5 466.4,453.9 466.9,455.6 467.3,454.9 467.8,455.6 468.2,454.1 468.7,454.8 469.1,454.3 469.5,452.6 470.0,454.3 470.4,454.2 470.8,453.5 471.2,455.3 471.7,456.9 472.1,455.9 472.5,454.1 472.9,452.6 473.3,453.7 473.7,453.0 474.2,453.9 474.6,455.0 475.0,453.4 475.4,451.7 475.8,454.8 476.2,453.2 476.6,454.6 477.0,452.0 477.4,455.5 477.7,451.4 478.1,452.8 478.5,453.5 478.9,449.9 479.3,451.5 479.7,450.6 480.0,454.0 480.4,452.8 480.8,451.0 481.2,450.1 481.5,450.1 481.9,451.9 482.3,450.9 482.6,451.9 483.0,451.0 483.4,449.7 483.7,453.1 484.1,451.7 484.5,450.5 484.8,450.7 485.2,452.2 485.5,451.7 485.9,449.6 486.2,452.1 486.6,450.1 486.9,451.1 487.3,449.4 487.6,449.8 487.9,451.1 488.3,449.2 488.6,450.3 489.0,450.5 489.3,449.5 489.6,451.3 490.0,450.5 490.3,449.8 490.6,450.7 490.9,450.9 491.3,450.7 491.6,449.5 491.9,450.2 492.2,449.8 492.6,448.6 492.9,449.1 493.2,450.9 493.5,448.6 493.8,449.5 494.2,450.4 494.5,448.7 494.8,449.0 495.1,448.4 495.4,449.3 495.7,448.0 496.0,449.2 496.3,448.2 496.6,449.0 496.9,447.6 497.2,448.0 497.5,449.4 497.8,449.1 498.1,447.1 498.4,449.7 498.7,448.2 499.0,449.3 499.3,449.3 499.6,448.5 499.9,448.4 500.2,447.4 500.5,448.9 500.8,449.7 501.1,447.8 501.3,449.2 501.6,449.0 501.9,449.1 502.2,447.9 502.5,448.4 502.8,448.6 503.0,449.4 503.3,447.9 503.6,448.1 503.9,448.0 504.2,448.9 504.4,447.5 504.7,448.3 505.0,447.7 505.2,448.2 505.5,448.8 505.8,448.1 506.1,448.8 506.3,448.1 506.6,448.4 506.9,448.3 507.1,447.9 507.4,448.6 507.7,448.7 507.9,448.0 508.2,448.7 508.4,448.4 508.7,448.2 509.0,448.5 509.2,448.8 509.5,448.7 509.7,449.1 510.0,448.5 510.2,448.5 510.5,447.7 510.8,448.1 511.0,448.7 511.3,447.9 511.5,448.0 511.8,449.2 512.0,448.4 512.3,447.9 512.5,447.5 512.7,448.0 513.0,449.4 513.2,448.4 513.5,448.6 513.7,448.7 514.0,448.2 514.2,448.5 514.5,448.4 514.7,448.3 514.9,448.8 515.2,448.1 515.4,448.1 515.6,448.1 515.9,448.9 516.1,448.2 516.4,449.1 516.6,447.9 516.8,448.0 517.1,447.5 517.3,448.1 517.5,448.4 517.8,448.6 518.0,448.1 518.2,448.2 518.4,448.9 518.7,448.2 518.9,448.4"/>
<polyline fill="none" stroke="#000" stroke-width="1.75" stroke-dasharray="7 3 1.4 3" points="127.7,462.0 158.6,463.4 180.6,456.3 197.6,453.1 211.6,450.5 223.3,449.9 233.5,445.7 242.5,442.1 248.9,441.8 255.9,438.3 264.8,434.7 271.0,437.4 277.2,434.7 284.3,428.5 291.4,427.7 296.7,426.8 302.0,422.3 308.2,419.7 312.6,422.3 316.1,416.1 321.5,417.0 326.8,413.5 332.1,410.0 339.2,408.2 342.7,402.9 348.0,402.0 350.5,398.7 352.5,400.0 354.5,401.1 356.4,401.2 358.3,400.5 360.1,397.6 361.9,396.3 363.7,394.0 365.4,391.8 367.1,392.3 368.7,393.4 370.3,391.9 371.9,390.5 373.4,389.0 375.0,389.5 376.4,388.3 377.9,388.9 379.3,389.4 380.7,385.9 382.1,388.3 383.4,386.0 384.8,386.0 386.1,385.0 387.4,387.2 388.6,386.2 389.9,385.6 391.1,383.7 392.3,382.5 393.5,383.3 394.6,383.8 395.8,383.8 396.9,384.9 398.0,383.9 399.1,386.6 400.2,385.5 401.3,387.3 402.3,386.0 403.4,386.1 404.4,386.2 405.4,388.7 406.4,389.6 407.4,389.2 408.4,390.0 409.3,389.7 410.3,390.1 411.2,390.7 412.1,389.6 413.1,391.5 414.0,393.5 414.9,394.5 415.7,396.4 416.6,396.8 417.5,397.3 418.3,397.6 419.2,395.9 420.0,398.8 420.8,398.5 421.6,400.5 422.5,400.3 423.3,400.9 424.0,401.3 424.8,402.2 425.6,401.3 426.4,402.4 427.1,405.6 427.9,405.5 428.6,405.4 429.4,406.1 430.1,406.7 430.8,409.8 431.5,408.8 432.2,409.0 432.9,409.2 433.6,408.5 434.3,411.2 435.0,412.9 435.7,413.2 436.4,413.4 437.0,413.3 437.7,413.4 438.4,414.9 439.0,415.1 439.6,415.1 440.3,417.7 440.9,416.3 441.5,417.1 442.2,416.4 442.8,419.9 443.4,419.2 444.0,419.9 444.6,420.7 445.2,420.5 445.8,421.3 446.4,422.5 447.0,422.3 447.6,423.7 448.1,424.8 448.7,425.1 449.3,426.0 449.8,426.2 450.4,427.0 451.0,426.6 451.5,427.1 452.1,426.6 452.6,427.5 453.1,427.6 453.7,428.4 454.2,428.3 454.7,429.4 455.3,431.0 455.8,429.6 456.3,430.8 456.8,431.2 457.3,430.8 457.8,431.4 458.3,431.7 458.8,432.6 459.3,432.4 459.8,434.3 460.3,433.9 460.8,434.4 461.3,435.2 461.8,435.2 462.3,434.8 462.7,435.4 463.2,435.6 463.7,436.0 464.1,436.5 464.6,435.4 465.1,435.8 465.5,436.6 466.0,437.2 466.4,437.0 466.9,437.4 467.3,438.1 467.8,438.2 468.2,438.1 468.7,438.2 469.1,438.0 469.5,439.0 470.0,439.1 470.4,438.9 470.8,439.6 471.2,439.5 471.7,439.7 472.1,439.5 472.5,440.5 472.9,440.1 473.3,440.6 473.7,440.7 474.2,440.5 474.6,440.8 475.0,440.8 475.4,441.0 475.8,441.2 476.2,441.1 476.6,441.6 477.0,441.6 477.4,441.2 477.7,441.9 478.1,441.7 478.5,442.1 478.9,441.3 479.3,442.3 479.7,441.6 480.0,442.3 480.4,443.3 480.8,442.8 481.2,443.1 481.5,442.6 481.9,442.6 482.3,443.1 482.6,443.3 483.0,443.3 483.4,443.2 483.7,443.3 484.1,443.5 484.5,444.2 484.8,443.9 485.2,443.9 485.5,444.0 485.9,443.9 486.2,443.9 486.6,444.4 486.9,444.9 487.3,444.8 487.6,444.3 487.9,445.2 488.3,445.0 488.6,445.6 489.0,445.1 489.3,444.9 489.6,445.4 490.0,445.4 490.3,445.2 490.6,445.3 490.9,445.5 491.3,445.4 491.6,445.8 491.9,445.8 492.2,445.7 492.6,445.7 492.9,446.1 493.2,446.0 493.5,445.7 493.8,446.1 494.2,446.5 494.5,446.2 494.8,446.0 495.1,446.6 495.4,446.9 495.7,446.4 496.0,445.9 496.3,446.1 496.6,446.9 496.9,446.5 497.2,446.8 497.5,446.8 497.8,446.7 498.1,447.1 498.4,446.8 498.7,447.0 499.0,447.0 499.3,447.0 499.6,447.5 499.9,446.8 500.2,446.8 500.5,447.4 500.8,446.9 501.1,447.2 501.3,447.0 501.6,447.5 501.9,447.3 502.2,447.5 502.5,447.2 502.8,447.4 503.0,447.0 503.3,447.6 503.6,447.6 503.9,447.5 504.2,447.6 504.4,447.5 504.7,447.6 505.0,448.0 505.2,447.6 505.5,447.6 505.8,447.9 506.1,447.8 506.3,447.7 506.6,448.2 506.9,448.2 507.1,447.9 507.4,448.3 507.7,447.8 507.9,448.3 508.2,447.8 508.4,448.2 508.7,448.1 509.0,448.1 509.2,448.3 509.5,448.1 509.7,448.1 510.0,448.1 510.2,448.6 510.5,448.2 510.8,448.4 511.0,448.4 511.3,448.6 511.5,448.3 511.8,448.3 512.0,448.4 512.3,448.5 512.5,448.4 512.7,448.6 513.0,448.6 513.2,448.7 513.5,448.6 513.7,448.8 514.0,448.5 514.2,448.5 514.5,448.5 514.7,448.5 514.9,448.4 515.2,448.7 515.4,448.7 515.6,448.4 515.9,448.7 516.1,448.6 516.4,448.6 516.6,448.7 516.8,448.9 517.1,448.8 517.3,448.5 517.5,448.8 517.8,448.7 518.0,449.0 518.2,448.8 518.4,448.8 518.7,448.8 518.9,448.7"/>
<polyline fill="none" stroke="#000" stroke-width="1.75" stroke-linejoin="round" points="127.7,494.4 158.6,481.5 180.6,480.6 197.6,479.3 211.6,490.3 223.3,479.7 233.5,485.9 242.5,481.8 249.9,490.8 256.9,488.4 263.8,496.7 270.8,493.7 275.7,494.7 282.7,500.7 290.6,506.0 294.6,499.7 299.5,510.6 307.1,522.5 310.4,514.6 314.4,515.6 317.4,514.6 321.0,522.5 323.3,520.5 326.3,530.4 328.3,532.4 332.3,539.4 334.2,538.4 337.2,548.3 340.2,541.3 343.2,544.3 348.1,558.2 351.1,557.2 355.1,565.2 359.0,570.1 362.0,567.1 365.0,575.1 367.0,577.1 368.6,594.9 371.3,571.1 374.9,590.0 377.9,582.0 381.9,584.0 383.8,581.0 386.8,591.9 390.0,587.0 391.1,583.5 392.3,585.4 393.5,585.5 394.6,587.1 395.8,591.5 396.9,582.7 398.0,587.8 399.1,587.2 400.2,585.7 401.3,588.1 402.3,588.2 403.4,596.5 404.4,588.6 405.4,587.1 406.4,589.7 407.4,582.4 408.4,583.4 409.3,586.8 410.3,582.6 411.2,580.2 412.1,580.6 413.1,577.0 414.0,584.7 414.9,584.2 415.7,587.1 416.6,576.6 417.5,575.4 418.3,574.2 419.2,575.3 420.0,572.2 420.8,573.4 421.6,568.8 422.5,564.1 423.3,572.3 424.0,564.7 424.8,568.6 425.6,562.9 426.4,563.3 427.1,557.1 427.9,558.5 428.6,561.8 429.4,561.7 430.1,558.7 430.8,559.1 431.5,552.9 432.2,557.1 432.9,554.1 433.6,552.1 434.3,554.8 435.0,551.6 435.7,549.4 436.4,549.7 437.0,548.7 437.7,548.1 438.4,548.1 439.0,545.9 439.6,548.4 440.3,549.1 440.9,546.8 441.5,542.6 442.2,540.6 442.8,541.8 443.4,539.2 444.0,541.5 444.6,537.7 445.2,537.1 445.8,533.7 446.4,534.0 447.0,530.5 447.6,528.9 448.1,531.4 448.7,527.9 449.3,528.1 449.8,530.0 450.4,530.4 451.0,526.8 451.5,525.1 452.1,526.5 452.6,526.2 453.1,524.8 453.7,521.9 454.2,521.8 454.7,523.6 455.3,519.7 455.8,520.8 456.3,521.9 456.8,521.0 457.3,517.9 457.8,517.8 458.3,517.3 458.8,515.5 459.3,516.5 459.8,514.7 460.3,516.0 460.8,513.3 461.3,513.2 461.8,512.6 462.3,512.7 462.7,509.2 463.2,512.4 463.7,510.4 464.1,510.1 464.6,510.6 465.1,508.7 465.5,508.0 466.0,506.5 466.4,505.9 466.9,504.5 467.3,503.7 467.8,502.2 468.2,500.9 468.7,501.6 469.1,500.0 469.5,500.5 470.0,499.8 470.4,498.0 470.8,498.9 471.2,498.0 471.7,497.4 472.1,496.6 472.5,497.8 472.9,497.5 473.3,495.9 473.7,495.7 474.2,495.6 474.6,495.2 475.0,496.0 475.4,494.7 475.8,495.8 476.2,493.3 476.6,493.4 477.0,494.9 477.4,493.9 477.7,492.5 478.1,495.0 478.5,493.8 478.9,493.3 479.3,491.4 479.7,493.2 480.0,492.4 480.4,492.0 480.8,491.7 481.2,490.6 481.5,490.8 481.9,491.5 482.3,491.7 482.6,491.3 483.0,491.0 483.4,490.7 483.7,490.7 484.1,491.5 484.5,490.1 484.8,489.0 485.2,490.0 485.5,489.3 485.9,488.7 486.2,488.5 486.6,489.4 486.9,488.5 487.3,488.6 487.6,488.0 487.9,488.9 488.3,487.9 488.6,487.8 489.0,487.0 489.3,487.1 489.6,488.2 490.0,487.0 490.3,487.9 490.6,487.6 490.9,487.4 491.3,487.2 491.6,487.0 491.9,487.5 492.2,486.9 492.6,486.1 492.9,486.5 493.2,487.3 493.5,485.9 493.8,486.3 494.2,486.2 494.5,486.7 494.8,485.7 495.1,486.6 495.4,485.4 495.7,485.9 496.0,485.2 496.3,485.7 496.6,485.3 496.9,484.8 497.2,485.5 497.5,484.8 497.8,485.5 498.1,484.0 498.4,485.7 498.7,484.8 499.0,485.5 499.3,485.0 499.6,484.7 499.9,484.5 500.2,484.3 500.5,484.7 500.8,484.3 501.1,483.7 501.3,484.1 501.6,484.4 501.9,484.1 502.2,484.1 502.5,484.1 502.8,483.0 503.0,483.9 503.3,484.3 503.6,483.8 503.9,483.5 504.2,483.1 504.4,483.2 504.7,484.0 505.0,483.1 505.2,483.4 505.5,483.1 505.8,483.3 506.1,482.6 506.3,482.3 506.6,482.7 506.9,482.8 507.1,481.9 507.4,482.6 507.7,482.6 507.9,482.4 508.2,482.3 508.4,481.8 508.7,482.0 509.0,481.9 509.2,482.4 509.5,482.2 509.7,482.3 510.0,481.6 510.2,481.7 510.5,482.1 510.8,482.0 511.0,482.2 511.3,481.7 511.5,481.7 511.8,482.0 512.0,481.6 512.3,481.6 512.5,482.0 512.7,482.1 513.0,481.5 513.2,481.3 513.5,481.4 513.7,480.9 514.0,481.7 514.2,481.9 514.5,481.5 514.7,481.2 514.9,481.1 515.2,481.2 515.4,481.4 515.6,481.5 515.9,481.5 516.1,481.6 516.4,481.3 516.6,481.4 516.8,480.6 517.1,480.8 517.3,481.1 517.5,480.8 517.8,480.9 518.0,481.0 518.2,481.1 518.4,480.9 518.7,480.9 518.9,480.8"/>
<polyline fill="none" stroke="#000" stroke-width="1.6" stroke-dasharray="1.4 2.4" points="127.7,475.8 158.6,471.7 180.6,470.0 197.6,464.6 211.6,475.8 223.3,468.2 233.5,470.0 242.5,474.4 251.9,481.8 259.8,481.8 269.8,485.8 279.7,489.8 289.6,496.7 295.6,494.7 300.5,502.7 306.5,509.6 316.4,505.6 317.4,501.7 319.4,512.6 325.3,519.5 331.3,525.5 337.2,527.5 343.2,523.5 347.1,535.4 353.1,536.4 354.5,536.2 356.4,541.4 358.3,544.6 360.1,541.2 361.9,539.9 363.7,544.9 365.4,547.6 367.1,550.5 368.7,544.5 370.3,545.2 371.9,551.5 373.4,551.2 375.0,554.7 376.4,553.3 377.9,550.1 379.3,549.5 380.7,557.3 382.1,549.2 383.4,547.8 384.8,547.0 386.1,550.9 387.4,551.3 388.6,550.1 389.9,551.1 391.1,552.3 392.3,553.7 393.5,555.1 394.6,552.7 395.8,547.2 396.9,554.5 398.0,548.6 399.1,552.4 400.2,548.7 401.3,552.8 402.3,550.4 403.4,553.0 404.4,559.0 405.4,551.9 406.4,554.2 407.4,548.0 408.4,550.7 409.3,553.2 410.3,550.7 411.2,551.2 412.1,549.7 413.1,546.1 414.0,549.4 414.9,545.2 415.7,551.1 416.6,544.6 417.5,546.7 418.3,544.4 419.2,545.8 420.0,541.8 420.8,544.5 421.6,541.5 422.5,543.7 423.3,541.7 424.0,540.1 424.8,537.8 425.6,540.0 426.4,538.8 427.1,540.2 427.9,536.1 428.6,537.1 429.4,536.4 430.1,535.4 430.8,534.6 431.5,533.9 432.2,532.1 432.9,530.9 433.6,531.2 434.3,532.0 435.0,532.6 435.7,531.3 436.4,530.7 437.0,529.7 437.7,529.0 438.4,527.8 439.0,527.9 439.6,528.6 440.3,525.5 440.9,524.7 441.5,527.4 442.2,524.9 442.8,525.3 443.4,524.7 444.0,522.0 444.6,525.5 445.2,524.4 445.8,522.2 446.4,522.4 447.0,521.3 447.6,519.9 448.1,520.3 448.7,520.3 449.3,520.6 449.8,519.7 450.4,518.6 451.0,519.2 451.5,516.7 452.1,517.6 452.6,517.3 453.1,515.6 453.7,513.8 454.2,514.0 454.7,514.4 455.3,514.1 455.8,514.3 456.3,511.9 456.8,512.2 457.3,512.1 457.8,511.0 458.3,509.1 458.8,510.7 459.3,511.1 459.8,509.8 460.3,508.1 460.8,507.9 461.3,507.8 461.8,508.7 462.3,507.1 462.7,506.3 463.2,506.7 463.7,505.3 464.1,506.0 464.6,504.0 465.1,503.7 465.5,503.9 466.0,503.8 466.4,502.9 466.9,502.3 467.3,500.6 467.8,500.9 468.2,500.7 468.7,500.4 469.1,500.7 469.5,499.8 470.0,500.1 470.4,499.4 470.8,498.8 471.2,498.8 471.7,498.6 472.1,498.5 472.5,497.5 472.9,497.3 473.3,496.4 473.7,497.6 474.2,497.2 474.6,496.1 475.0,495.6 475.4,495.0 475.8,495.4 476.2,495.2 476.6,496.0 477.0,494.8 477.4,494.0 477.7,493.0 478.1,494.7 478.5,493.8 478.9,492.7 479.3,493.4 479.7,492.3 480.0,494.0 480.4,493.1 480.8,492.7 481.2,492.1 481.5,491.0 481.9,491.7 482.3,490.8 482.6,491.6 483.0,490.1 483.4,490.5 483.7,491.2 484.1,491.2 484.5,489.7 484.8,489.4 485.2,490.2 485.5,490.0 485.9,489.1 486.2,489.1 486.6,489.0 486.9,488.6 487.3,488.7 487.6,489.4 487.9,489.0 488.3,489.4 488.6,488.4 489.0,488.2 489.3,487.7 489.6,488.0 490.0,487.3 490.3,487.0 490.6,487.9 490.9,488.0 491.3,487.7 491.6,487.7 491.9,487.2 492.2,486.7 492.6,486.9 492.9,486.6 493.2,486.1 493.5,485.8 493.8,485.8 494.2,486.2 494.5,486.1 494.8,485.8 495.1,486.3 495.4,485.8 495.7,485.9 496.0,486.0 496.3,485.2 496.6,484.7 496.9,485.6 497.2,485.0 497.5,485.6 497.8,485.2 498.1,485.4 498.4,485.2 498.7,484.2 499.0,485.1 499.3,484.5 499.6,484.4 499.9,484.4 500.2,484.8 500.5,484.7 500.8,484.7 501.1,483.8 501.3,484.0 501.6,483.4 501.9,484.0 502.2,484.2 502.5,483.7 502.8,483.9 503.0,483.9 503.3,484.0 503.6,483.4 503.9,483.3 504.2,483.3 504.4,484.0 504.7,483.7 505.0,483.3 505.2,483.3 505.5,483.2 505.8,483.2 506.1,483.0 506.3,482.9 506.6,482.5 506.9,482.7 507.1,483.2 507.4,482.9 507.7,482.8 507.9,482.7 508.2,482.7 508.4,482.8 508.7,482.5 509.0,482.7 509.2,482.7 509.5,482.4 509.7,482.4 510.0,482.3 510.2,482.3 510.5,482.7 510.8,481.9 511.0,482.4 511.3,482.3 511.5,482.3 511.8,482.4 512.0,482.7 512.3,482.4 512.5,482.3 512.7,482.2 513.0,482.3 513.2,482.5 513.5,482.2 513.7,482.0 514.0,481.9 514.2,481.9 514.5,481.9 514.7,482.4 514.9,482.2 515.2,482.1 515.4,482.4 515.6,481.9 515.9,482.2 516.1,482.2 516.4,481.7 516.6,481.7 516.8,481.8 517.1,482.1 517.3,482.2 517.5,481.7 517.8,482.1 518.0,481.8 518.2,481.8 518.4,481.7 518.7,481.8 518.9,481.4"/>
<polyline fill="none" stroke="#000" stroke-width="1.75" stroke-dasharray="7 3 1.4 3" points="127.7,503.6 158.6,494.7 180.6,494.7 197.6,497.9 211.6,496.5 223.3,495.6 233.5,499.2 242.5,491.2 249.9,491.7 259.8,491.7 271.7,489.8 281.7,490.8 288.6,493.7 295.6,487.8 301.5,491.3 307.5,492.7 313.4,489.8 317.4,495.7 322.3,489.8 327.3,494.7 333.3,496.7 334.4,497.1 336.9,500.0 339.4,501.1 341.7,502.5 344.0,506.0 346.2,506.0 348.4,506.3 350.5,509.7 352.5,508.1 354.5,508.8 356.4,510.3 358.3,512.7 360.1,515.4 361.9,516.8 363.7,518.2 365.4,519.8 367.1,520.3 368.7,519.7 370.3,521.1 371.9,520.8 373.4,519.9 375.0,522.0 376.4,521.1 377.9,520.8 379.3,523.4 380.7,522.0 382.1,521.2 383.4,522.5 384.8,526.1 386.1,523.8 387.4,525.1 388.6,525.2 389.9,525.2 391.1,525.5 392.3,524.5 393.5,524.7 394.6,525.2 395.8,525.1 396.9,526.3 398.0,526.8 399.1,523.8 400.2,525.2 401.3,523.3 402.3,523.4 403.4,523.6 404.4,523.8 405.4,523.0 406.4,520.5 407.4,524.1 408.4,522.0 409.3,521.2 410.3,522.1 411.2,520.4 412.1,519.2 413.1,520.7 414.0,520.2 414.9,518.6 415.7,519.8 416.6,518.8 417.5,516.9 418.3,518.9 419.2,517.0 420.0,515.2 420.8,516.1 421.6,515.3 422.5,515.4 423.3,513.0 424.0,514.4 424.8,513.8 425.6,513.1 426.4,512.5 427.1,512.6 427.9,511.6 428.6,510.7 429.4,509.5 430.1,510.5 430.8,509.9 431.5,508.9 432.2,508.3 432.9,508.3 433.6,505.6 434.3,507.1 435.0,504.7 435.7,506.1 436.4,506.2 437.0,506.3 437.7,504.2 438.4,504.4 439.0,503.6 439.6,501.8 440.3,503.2 440.9,502.3 441.5,501.9 442.2,500.8 442.8,500.9 443.4,500.6 444.0,500.8 444.6,499.8 445.2,500.5 445.8,498.6 446.4,498.4 447.0,498.2 447.6,497.4 448.1,498.4 448.7,497.6 449.3,496.3 449.8,496.7 450.4,496.9 451.0,495.3 451.5,495.8 452.1,495.3 452.6,496.2 453.1,495.0 453.7,494.3 454.2,493.9 454.7,494.7 455.3,493.4 455.8,494.3 456.3,492.3 456.8,492.6 457.3,492.3 457.8,491.8 458.3,491.7 458.8,491.8 459.3,491.0 459.8,490.4 460.3,491.2 460.8,491.0 461.3,489.9 461.8,490.0 462.3,488.7 462.7,489.7 463.2,488.5 463.7,488.6 464.1,489.3 464.6,487.8 465.1,488.0 465.5,487.4 466.0,487.0 466.4,487.1 466.9,487.4 467.3,486.8 467.8,486.9 468.2,487.2 468.7,486.7 469.1,486.2 469.5,487.0 470.0,486.4 470.4,486.7 470.8,485.8 471.2,486.6 471.7,485.4 472.1,485.2 472.5,485.5 472.9,485.4 473.3,485.5 473.7,485.1 474.2,485.3 474.6,485.4 475.0,484.7 475.4,484.3 475.8,484.5 476.2,484.8 476.6,484.7 477.0,484.2 477.4,483.9 477.7,484.0 478.1,484.2 478.5,483.6 478.9,484.1 479.3,483.7 479.7,483.6 480.0,483.2 480.4,483.6 480.8,483.1 481.2,482.6 481.5,483.1 481.9,482.7 482.3,483.0 482.6,482.6 483.0,482.3 483.4,482.4 483.7,482.1 484.1,481.9 484.5,482.0 484.8,482.2 485.2,481.8 485.5,481.7 485.9,481.6 486.2,481.8 486.6,481.7 486.9,481.8 487.3,481.6 487.6,482.0 487.9,481.0 488.3,481.3 488.6,481.4 489.0,481.4 489.3,480.8 489.6,480.8 490.0,481.0 490.3,481.2 490.6,481.2 490.9,480.5 491.3,480.9 491.6,481.1 491.9,480.7 492.2,480.4 492.6,480.5 492.9,480.3 493.2,480.8 493.5,480.4 493.8,480.3 494.2,480.2 494.5,480.3 494.8,480.1 495.1,480.0 495.4,480.2 495.7,480.1 496.0,480.2 496.3,480.2 496.6,480.4 496.9,480.1 497.2,480.1 497.5,480.1 497.8,479.9 498.1,480.3 498.4,479.9 498.7,479.6 499.0,480.2 499.3,480.1 499.6,479.8 499.9,480.1 500.2,480.1 500.5,480.0 500.8,479.6 501.1,479.8 501.3,479.6 501.6,479.7 501.9,479.6 502.2,479.6 502.5,479.8 502.8,479.5 503.0,479.8 503.3,479.7 503.6,479.5 503.9,479.6 504.2,479.7 504.4,479.8 504.7,479.5 505.0,479.9 505.2,479.6 505.5,479.7 505.8,479.3 506.1,479.3 506.3,479.7 506.6,479.4 506.9,479.5 507.1,479.6 507.4,479.2 507.7,479.5 507.9,479.7 508.2,479.5 508.4,479.4 508.7,479.5 509.0,479.4 509.2,479.5 509.5,479.6 509.7,479.3 510.0,479.4 510.2,479.4 510.5,479.5 510.8,479.5 511.0,479.2 511.3,479.5 511.5,479.5 511.8,479.2 512.0,479.3 512.3,479.1 512.5,479.3 512.7,479.4 513.0,479.1 513.2,479.2 513.5,479.2 513.7,479.2 514.0,479.2 514.2,479.1 514.5,479.4 514.7,479.2 514.9,479.2 515.2,479.4 515.4,479.2 515.6,479.4 515.9,479.1 516.1,479.4 516.4,479.2 516.6,479.1 516.8,479.3 517.1,479.1 517.3,479.1 517.5,479.3 517.8,479.2 518.0,479.3 518.2,479.2 518.4,479.2 518.7,479.2 518.9,479.3"/>
</g>
<g clip-path="url(#cb)">
<polyline fill="none" stroke="#000" stroke-width="1.75" stroke-linejoin="round" points="739.2,13.5 770.1,150.6 792.1,187.3 809.1,129.8 823.1,164.5 834.8,155.6 845.0,138.7 854.0,112.9 861.9,80.5 868.7,74.5 875.5,69.8 882.3,89.8 887.4,84.7 892.8,100.0 899.3,79.6 906.4,59.3 910.3,84.7 913.2,84.7 917.9,69.5 922.2,66.9 924.7,105.1 928.1,74.5 932.4,75.4 937.5,91.5 942.6,43.1 947.7,45.7 950.6,20.2 953.6,37.2 957.0,46.5 959.6,43.1 963.0,74.5 967.2,55.0 969.8,44.8 971.5,50.8 973.2,39.7 975.7,54.2 978.2,41.4 980.8,43.1 983.3,51.6 985.9,41.4 988.4,55.9 989.4,41.3 990.8,53.9 992.2,34.8 993.6,26.4 994.9,42.3 996.3,44.7 997.6,42.3 998.9,42.9 1000.1,37.5 1001.4,32.8 1002.6,30.6 1003.8,33.8 1005.0,31.6 1006.1,40.9 1007.3,39.9 1008.4,27.0 1009.5,43.1 1010.6,39.0 1011.7,48.8 1012.8,51.8 1013.8,44.7 1014.9,28.3 1015.9,45.2 1016.9,30.3 1017.9,50.8 1018.9,36.5 1019.9,39.5 1020.8,51.4 1021.8,30.0 1022.7,40.2 1023.6,34.0 1024.6,36.9 1025.5,35.3 1026.4,42.7 1027.2,37.6 1028.1,40.5 1029.0,41.6 1029.8,31.0 1030.7,44.6 1031.5,37.4 1032.3,31.3 1033.1,35.6 1034.0,42.2 1034.8,42.7 1035.5,35.6 1036.3,38.9 1037.1,39.5 1037.9,42.8 1038.6,37.9 1039.4,42.5 1040.1,34.8 1040.9,35.7 1041.6,41.5 1042.3,41.8 1043.0,38.9 1043.7,41.6 1044.4,40.2 1045.1,42.5 1045.8,44.2 1046.5,41.8 1047.2,43.1 1047.9,38.5 1048.5,38.0 1049.2,31.3 1049.9,42.0 1050.5,40.9 1051.1,43.1 1051.8,34.6 1052.4,40.1 1053.0,40.3 1053.7,36.1 1054.3,46.4 1054.9,47.9 1055.5,39.2 1056.1,45.8 1056.7,50.8 1057.3,40.7 1057.9,48.8 1058.5,51.2 1059.1,52.4 1059.6,41.3 1060.2,42.7 1060.8,47.3 1061.3,50.9 1061.9,42.9 1062.5,44.8 1063.0,43.9 1063.6,51.3 1064.1,46.2 1064.6,50.0 1065.2,50.4 1065.7,52.3 1066.2,50.3 1066.8,50.4 1067.3,53.0 1067.8,51.4 1068.3,46.8 1068.8,49.1 1069.3,53.4 1069.8,51.6 1070.3,50.8 1070.8,52.9 1071.3,58.6 1071.8,53.3 1072.3,55.2 1072.8,55.7 1073.3,54.6 1073.8,58.5 1074.2,58.3 1074.7,57.8 1075.2,54.4 1075.6,60.5 1076.1,59.8 1076.6,58.3 1077.0,53.5 1077.5,59.1 1077.9,57.0 1078.4,59.5 1078.8,59.2 1079.3,58.9 1079.7,63.1 1080.2,61.6 1080.6,64.2 1081.0,59.9 1081.5,61.8 1081.9,65.3 1082.3,63.4 1082.7,61.6 1083.2,61.5 1083.6,62.4 1084.0,63.7 1084.4,65.5 1084.8,64.7 1085.2,66.2 1085.7,66.7 1086.1,65.6 1086.5,68.2 1086.9,67.5 1087.3,66.1 1087.7,66.4 1088.1,67.0 1088.5,66.0 1088.9,65.2 1089.2,68.1 1089.6,67.4 1090.0,69.7 1090.4,67.9 1090.8,69.6 1091.2,70.1 1091.5,69.3 1091.9,70.9 1092.3,69.6 1092.7,70.5 1093.0,73.1 1093.4,72.7 1093.8,72.4 1094.1,71.4 1094.5,74.3 1094.9,76.9 1095.2,70.1 1095.6,76.0 1096.0,74.9 1096.3,76.7 1096.7,77.2 1097.0,73.9 1097.4,78.8 1097.7,75.3 1098.1,76.2 1098.4,78.0 1098.8,77.2 1099.1,78.1 1099.4,77.2 1099.8,76.7 1100.1,78.7 1100.5,77.3 1100.8,81.4 1101.1,80.1 1101.5,82.1 1101.8,78.5 1102.1,77.6 1102.4,77.7 1102.8,80.8 1103.1,79.8 1103.4,82.5 1103.7,80.3 1104.1,80.7 1104.4,83.3 1104.7,82.7 1105.0,84.5 1105.3,84.9 1105.7,84.6 1106.0,83.0 1106.3,83.7 1106.6,87.9 1106.9,85.2 1107.2,86.1 1107.5,86.2 1107.8,86.3 1108.1,86.5 1108.4,86.3 1108.7,86.7 1109.0,85.3 1109.3,89.6 1109.6,88.0 1109.9,87.1 1110.2,89.3 1110.5,89.7 1110.8,87.9 1111.1,89.1 1111.4,91.3 1111.7,90.7 1112.0,90.9 1112.3,91.7 1112.6,90.9 1112.8,91.1 1113.1,93.0 1113.4,91.7 1113.7,92.1 1114.0,93.0 1114.3,92.8 1114.5,92.1 1114.8,94.8 1115.1,93.5 1115.4,95.2 1115.7,94.5 1115.9,93.7 1116.2,95.7 1116.5,94.7 1116.7,94.5 1117.0,95.3 1117.3,94.1 1117.6,96.1 1117.8,95.5 1118.1,96.1 1118.4,95.9 1118.6,97.2 1118.9,97.2 1119.2,97.9 1119.4,98.5 1119.7,97.8 1119.9,97.9 1120.2,98.3 1120.5,97.8 1120.7,98.2 1121.0,99.2 1121.2,98.5 1121.5,98.1 1121.7,99.2 1122.0,99.8 1122.3,100.7 1122.5,99.7 1122.8,99.8 1123.0,100.6 1123.3,100.7 1123.5,101.1 1123.8,100.9 1124.0,101.5 1124.2,101.3 1124.5,102.3 1124.7,102.2 1125.0,102.6 1125.2,102.3 1125.5,102.1 1125.7,103.0 1126.0,103.2 1126.2,103.9 1126.4,104.0 1126.7,103.8 1126.9,104.0 1127.1,103.8 1127.4,104.4 1127.6,104.8 1127.9,104.7 1128.1,104.7 1128.3,105.8 1128.6,105.2 1128.8,106.4 1129.0,106.4 1129.3,106.7 1129.5,106.1 1129.7,106.8 1129.9,106.3 1130.2,106.9 1130.4,106.7"/>
<polyline fill="none" stroke="#000" stroke-width="1.6" stroke-dasharray="1.4 2.4" points="739.2,186.3 770.1,226.0 792.1,205.2 809.1,148.6 823.1,184.3 834.8,181.3 845.0,174.4 854.0,155.6 860.2,122.1 867.0,118.7 875.5,103.4 881.4,120.4 887.4,106.0 892.5,113.6 899.3,98.3 906.1,89.8 912.9,84.7 919.6,81.3 924.7,101.7 929.8,84.7 934.9,88.1 941.7,61.0 947.7,61.0 950.2,42.3 953.6,61.0 957.0,69.5 957.7,77.3 959.9,76.2 962.0,63.9 964.0,59.2 966.0,64.9 967.9,67.5 969.8,64.4 971.6,59.6 973.4,62.3 975.2,68.0 976.9,54.5 978.6,66.5 980.2,66.0 981.8,67.8 983.4,71.1 984.9,66.9 986.5,69.0 987.9,77.1 989.4,68.3 990.8,66.1 992.2,60.1 993.6,62.1 994.9,67.6 996.3,70.1 997.6,68.2 998.9,68.4 1000.1,67.9 1001.4,66.5 1002.6,68.8 1003.8,63.9 1005.0,68.3 1006.1,64.2 1007.3,59.0 1008.4,60.9 1009.5,65.8 1010.6,65.4 1011.7,63.1 1012.8,65.3 1013.8,69.2 1014.9,70.4 1015.9,72.4 1016.9,66.2 1017.9,71.2 1018.9,73.9 1019.9,71.2 1020.8,76.3 1021.8,67.6 1022.7,69.2 1023.6,69.7 1024.6,67.4 1025.5,68.5 1026.4,69.6 1027.2,68.7 1028.1,67.1 1029.0,67.4 1029.8,68.9 1030.7,63.7 1031.5,70.0 1032.3,65.7 1033.1,68.9 1034.0,66.4 1034.8,70.7 1035.5,69.5 1036.3,70.2 1037.1,69.0 1037.9,72.0 1038.6,76.7 1039.4,67.0 1040.1,74.0 1040.9,73.5 1041.6,71.9 1042.3,69.6 1043.0,77.3 1043.7,73.7 1044.4,75.8 1045.1,72.4 1045.8,71.5 1046.5,76.0 1047.2,75.2 1047.9,72.9 1048.5,73.1 1049.2,75.0 1049.9,72.2 1050.5,72.5 1051.1,74.4 1051.8,76.9 1052.4,76.9 1053.0,75.9 1053.7,78.4 1054.3,75.8 1054.9,75.5 1055.5,81.1 1056.1,76.1 1056.7,78.4 1057.3,78.6 1057.9,78.1 1058.5,78.5 1059.1,79.4 1059.6,79.4 1060.2,77.7 1060.8,78.8 1061.3,81.1 1061.9,80.3 1062.5,78.7 1063.0,79.6 1063.6,78.2 1064.1,78.0 1064.6,79.2 1065.2,82.4 1065.7,79.5 1066.2,77.8 1066.8,80.5 1067.3,79.9 1067.8,81.9 1068.3,82.6 1068.8,80.8 1069.3,81.5 1069.8,80.5 1070.3,83.0 1070.8,81.0 1071.3,82.0 1071.8,84.6 1072.3,81.3 1072.8,82.6 1073.3,82.5 1073.8,83.1 1074.2,83.3 1074.7,84.3 1075.2,83.6 1075.6,83.9 1076.1,82.5 1076.6,84.2 1077.0,82.9 1077.5,85.4 1077.9,84.5 1078.4,85.6 1078.8,84.6 1079.3,85.4 1079.7,85.5 1080.2,86.1 1080.6,85.8 1081.0,85.6 1081.5,86.0 1081.9,86.0 1082.3,86.0 1082.7,86.0 1083.2,86.1 1083.6,88.8 1084.0,87.1 1084.4,87.0 1084.8,88.8 1085.2,88.4 1085.7,88.3 1086.1,89.4 1086.5,90.2 1086.9,88.4 1087.3,90.2 1087.7,89.8 1088.1,90.4 1088.5,89.5 1088.9,91.1 1089.2,91.0 1089.6,88.7 1090.0,91.4 1090.4,91.6 1090.8,90.1 1091.2,91.4 1091.5,91.2 1091.9,91.7 1092.3,91.2 1092.7,92.3 1093.0,92.5 1093.4,92.2 1093.8,92.4 1094.1,91.6 1094.5,93.1 1094.9,92.3 1095.2,93.2 1095.6,92.9 1096.0,94.9 1096.3,93.7 1096.7,94.7 1097.0,94.1 1097.4,94.3 1097.7,94.8 1098.1,94.6 1098.4,96.0 1098.8,94.9 1099.1,96.0 1099.4,94.7 1099.8,95.1 1100.1,96.0 1100.5,95.2 1100.8,96.9 1101.1,96.4 1101.5,96.4 1101.8,97.3 1102.1,96.4 1102.4,96.5 1102.8,95.8 1103.1,96.3 1103.4,97.2 1103.7,96.5 1104.1,98.0 1104.4,98.2 1104.7,98.1 1105.0,97.4 1105.3,97.9 1105.7,97.8 1106.0,98.9 1106.3,99.1 1106.6,98.8 1106.9,99.0 1107.2,99.3 1107.5,99.6 1107.8,99.1 1108.1,99.2 1108.4,100.1 1108.7,100.1 1109.0,100.3 1109.3,100.2 1109.6,100.7 1109.9,100.7 1110.2,100.4 1110.5,101.5 1110.8,101.4 1111.1,101.0 1111.4,101.2 1111.7,101.2 1112.0,101.1 1112.3,101.3 1112.6,101.3 1112.8,101.8 1113.1,102.3 1113.4,102.3 1113.7,101.9 1114.0,102.5 1114.3,102.5 1114.5,102.5 1114.8,103.4 1115.1,102.8 1115.4,103.6 1115.7,102.9 1115.9,103.7 1116.2,103.5 1116.5,104.2 1116.7,104.1 1117.0,103.9 1117.3,104.5 1117.6,104.8 1117.8,104.9 1118.1,105.1 1118.4,104.7 1118.6,105.6 1118.9,104.9 1119.2,105.1 1119.4,104.8 1119.7,105.4 1119.9,105.1 1120.2,105.7 1120.5,105.3 1120.7,106.5 1121.0,106.3 1121.2,106.6 1121.5,106.7 1121.7,106.5 1122.0,106.7 1122.3,106.8 1122.5,106.3 1122.8,106.6 1123.0,107.0 1123.3,107.4 1123.5,107.0 1123.8,107.5 1124.0,107.4 1124.2,107.9 1124.5,108.0 1124.7,107.7 1125.0,107.8 1125.2,108.5 1125.5,108.5 1125.7,108.4 1126.0,108.7 1126.2,108.7 1126.4,109.0 1126.7,109.0 1126.9,109.4 1127.1,109.8 1127.4,109.9 1127.6,110.1 1127.9,110.0 1128.1,110.3 1128.3,110.2 1128.6,110.4 1128.8,110.7 1129.0,110.6 1129.3,111.0 1129.5,110.8 1129.7,111.6 1129.9,111.7 1130.2,111.7 1130.4,111.7"/>
<polyline fill="none" stroke="#000" stroke-width="1.75" stroke-dasharray="7 3 1.4 3" points="739.2,19.8 770.1,27.8 792.1,67.1 809.1,70.4 823.1,62.5 834.8,58.5 845.0,51.6 854.0,44.6 861.9,51.6 868.7,48.2 875.5,62.7 881.4,63.0 889.1,78.8 895.9,79.6 901.0,72.9 904.4,69.5 908.6,81.3 913.7,101.7 919.6,84.7 924.7,105.1 929.8,88.1 936.6,113.6 941.7,96.6 947.7,93.2 955.3,87.3 960.4,94.9 964.7,106.8 968.1,98.3 969.8,99.3 971.6,98.9 973.4,99.1 975.2,98.3 976.9,99.9 978.6,99.7 980.2,101.9 981.8,96.7 983.4,100.7 984.9,90.0 986.5,93.1 987.9,94.6 989.4,92.6 990.8,91.6 992.2,92.9 993.6,94.1 994.9,94.9 996.3,89.8 997.6,92.7 998.9,91.0 1000.1,93.7 1001.4,90.3 1002.6,90.8 1003.8,91.7 1005.0,88.6 1006.1,88.9 1007.3,86.6 1008.4,87.0 1009.5,83.8 1010.6,85.2 1011.7,85.4 1012.8,84.7 1013.8,89.0 1014.9,81.4 1015.9,81.2 1016.9,85.2 1017.9,85.8 1018.9,85.0 1019.9,86.6 1020.8,88.0 1021.8,83.9 1022.7,82.5 1023.6,84.3 1024.6,86.4 1025.5,85.2 1026.4,84.2 1027.2,85.0 1028.1,85.0 1029.0,81.9 1029.8,85.3 1030.7,83.3 1031.5,84.2 1032.3,83.8 1033.1,84.7 1034.0,85.9 1034.8,84.2 1035.5,84.7 1036.3,85.7 1037.1,85.1 1037.9,83.5 1038.6,85.4 1039.4,83.8 1040.1,84.0 1040.9,84.6 1041.6,86.2 1042.3,83.3 1043.0,83.9 1043.7,84.6 1044.4,83.4 1045.1,84.6 1045.8,85.9 1046.5,82.5 1047.2,84.6 1047.9,83.8 1048.5,86.8 1049.2,85.2 1049.9,85.3 1050.5,84.7 1051.1,83.9 1051.8,85.2 1052.4,85.6 1053.0,85.4 1053.7,87.2 1054.3,86.3 1054.9,84.9 1055.5,85.5 1056.1,86.2 1056.7,85.1 1057.3,86.1 1057.9,85.8 1058.5,86.7 1059.1,86.8 1059.6,86.4 1060.2,88.0 1060.8,86.8 1061.3,87.9 1061.9,86.8 1062.5,87.0 1063.0,87.4 1063.6,87.8 1064.1,88.9 1064.6,87.3 1065.2,89.8 1065.7,87.9 1066.2,90.0 1066.8,89.3 1067.3,89.1 1067.8,90.4 1068.3,89.8 1068.8,90.4 1069.3,90.8 1069.8,92.7 1070.3,90.6 1070.8,92.9 1071.3,91.7 1071.8,91.7 1072.3,92.2 1072.8,93.6 1073.3,93.0 1073.8,92.9 1074.2,94.1 1074.7,94.1 1075.2,94.9 1075.6,93.7 1076.1,95.6 1076.6,95.7 1077.0,94.7 1077.5,95.1 1077.9,95.8 1078.4,95.6 1078.8,96.5 1079.3,96.6 1079.7,96.4 1080.2,96.0 1080.6,95.7 1081.0,97.3 1081.5,96.5 1081.9,98.2 1082.3,98.8 1082.7,98.0 1083.2,98.6 1083.6,99.1 1084.0,99.0 1084.4,98.1 1084.8,98.4 1085.2,98.9 1085.7,99.4 1086.1,99.1 1086.5,99.9 1086.9,100.7 1087.3,100.0 1087.7,100.4 1088.1,100.1 1088.5,100.8 1088.9,101.5 1089.2,101.9 1089.6,101.5 1090.0,101.2 1090.4,102.8 1090.8,100.9 1091.2,102.0 1091.5,102.0 1091.9,102.6 1092.3,103.0 1092.7,102.7 1093.0,104.2 1093.4,104.2 1093.8,103.7 1094.1,103.2 1094.5,102.9 1094.9,104.3 1095.2,104.3 1095.6,104.3 1096.0,104.9 1096.3,104.6 1096.7,103.8 1097.0,103.7 1097.4,104.6 1097.7,105.0 1098.1,105.3 1098.4,105.3 1098.8,105.2 1099.1,105.1 1099.4,105.8 1099.8,106.1 1100.1,105.6 1100.5,105.6 1100.8,105.9 1101.1,105.8 1101.5,106.5 1101.8,106.0 1102.1,106.8 1102.4,106.4 1102.8,107.1 1103.1,108.1 1103.4,106.7 1103.7,107.4 1104.1,108.4 1104.4,107.9 1104.7,107.8 1105.0,108.0 1105.3,107.8 1105.7,107.5 1106.0,107.3 1106.3,108.0 1106.6,108.2 1106.9,109.0 1107.2,108.8 1107.5,108.2 1107.8,109.1 1108.1,108.6 1108.4,109.6 1108.7,108.9 1109.0,109.7 1109.3,109.6 1109.6,109.5 1109.9,110.2 1110.2,109.8 1110.5,109.2 1110.8,110.3 1111.1,109.9 1111.4,110.2 1111.7,110.6 1112.0,110.9 1112.3,110.8 1112.6,110.5 1112.8,110.7 1113.1,110.7 1113.4,111.1 1113.7,111.1 1114.0,111.7 1114.3,111.3 1114.5,111.9 1114.8,112.3 1115.1,112.0 1115.4,111.9 1115.7,112.5 1115.9,111.9 1116.2,112.3 1116.5,112.8 1116.7,112.7 1117.0,112.6 1117.3,112.6 1117.6,112.7 1117.8,113.4 1118.1,113.6 1118.4,113.5 1118.6,113.2 1118.9,113.4 1119.2,113.1 1119.4,113.1 1119.7,113.7 1119.9,113.8 1120.2,113.3 1120.5,113.4 1120.7,113.9 1121.0,113.6 1121.2,114.3 1121.5,114.4 1121.7,113.9 1122.0,114.2 1122.3,114.6 1122.5,114.7 1122.8,114.5 1123.0,114.5 1123.3,114.6 1123.5,114.9 1123.8,115.0 1124.0,114.8 1124.2,114.8 1124.5,115.0 1124.7,115.1 1125.0,115.1 1125.2,115.0 1125.5,115.4 1125.7,115.6 1126.0,115.5 1126.2,115.9 1126.4,115.8 1126.7,115.9 1126.9,116.0 1127.1,115.4 1127.4,116.1 1127.6,116.3 1127.9,115.9 1128.1,115.8 1128.3,116.1 1128.6,116.3 1128.8,116.5 1129.0,116.2 1129.3,116.5 1129.5,116.4 1129.7,116.8 1129.9,116.8 1130.2,116.9 1130.4,116.8"/>
<polyline fill="none" stroke="#000" stroke-width="1.75" stroke-linejoin="round" points="739.2,289.2 770.1,283.0 792.1,288.4 809.1,286.9 823.1,282.2 834.8,293.1 845.0,305.5 854.0,302.4 861.9,297.1 868.8,317.0 875.8,310.0 881.7,309.0 887.7,313.4 893.7,309.0 897.6,308.1 902.6,318.0 906.5,318.0 910.5,307.1 914.5,320.0 918.5,304.1 925.4,316.0 929.4,305.1 932.3,309.0 934.9,297.1 937.3,313.0 940.3,298.1 943.3,296.2 947.2,291.2 950.2,294.2 954.8,281.7 957.1,297.1 961.1,275.3 963.5,267.4 967.1,272.3 972.0,271.7 976.0,249.5 979.4,261.4 981.9,251.5 985.9,248.5 987.9,240.6 989.9,248.5 992.9,232.7 995.8,239.6 998.8,230.7 1002.9,235.6 1005.9,226.7 1007.3,218.3 1008.4,225.3 1009.5,213.5 1010.6,218.1 1011.7,206.6 1012.8,215.6 1013.8,210.9 1014.9,217.9 1015.9,214.6 1016.9,210.3 1017.9,208.2 1018.9,211.6 1019.9,208.7 1020.8,204.2 1021.8,211.1 1022.7,195.6 1023.6,206.9 1024.6,217.2 1025.5,208.9 1026.4,198.9 1027.2,210.8 1028.1,205.9 1029.0,201.9 1029.8,201.7 1030.7,205.2 1031.5,208.6 1032.3,203.8 1033.1,212.9 1034.0,201.0 1034.8,208.5 1035.5,197.0 1036.3,195.3 1037.1,204.6 1037.9,206.7 1038.6,214.8 1039.4,204.3 1040.1,207.5 1040.9,200.2 1041.6,206.3 1042.3,208.9 1043.0,204.2 1043.7,211.2 1044.4,213.0 1045.1,209.1 1045.8,205.9 1046.5,205.3 1047.2,209.2 1047.9,201.8 1048.5,210.9 1049.2,204.1 1049.9,208.0 1050.5,202.2 1051.1,203.1 1051.8,203.8 1052.4,209.4 1053.0,207.7 1053.7,208.0 1054.3,211.6 1054.9,204.8 1055.5,211.5 1056.1,206.4 1056.7,205.6 1057.3,207.0 1057.9,212.6 1058.5,214.7 1059.1,207.9 1059.6,206.6 1060.2,205.4 1060.8,210.6 1061.3,212.1 1061.9,212.2 1062.5,212.1 1063.0,215.7 1063.6,212.0 1064.1,213.4 1064.6,212.3 1065.2,211.2 1065.7,208.5 1066.2,215.7 1066.8,214.8 1067.3,215.9 1067.8,216.4 1068.3,219.1 1068.8,220.1 1069.3,214.3 1069.8,219.8 1070.3,222.3 1070.8,222.5 1071.3,221.4 1071.8,222.9 1072.3,218.8 1072.8,224.2 1073.3,223.0 1073.8,224.6 1074.2,226.7 1074.7,226.1 1075.2,223.7 1075.6,222.4 1076.1,226.8 1076.6,228.6 1077.0,229.8 1077.5,232.3 1077.9,231.2 1078.4,231.5 1078.8,227.2 1079.3,233.4 1079.7,232.5 1080.2,237.2 1080.6,234.7 1081.0,231.8 1081.5,234.1 1081.9,235.8 1082.3,233.0 1082.7,232.1 1083.2,237.0 1083.6,235.5 1084.0,236.7 1084.4,237.8 1084.8,237.6 1085.2,240.2 1085.7,239.5 1086.1,239.8 1086.5,241.2 1086.9,239.8 1087.3,237.8 1087.7,240.5 1088.1,238.3 1088.5,241.5 1088.9,239.2 1089.2,241.6 1089.6,244.3 1090.0,243.6 1090.4,241.4 1090.8,240.7 1091.2,242.8 1091.5,245.7 1091.9,245.3 1092.3,242.2 1092.7,246.5 1093.0,245.9 1093.4,246.9 1093.8,248.1 1094.1,244.8 1094.5,247.1 1094.9,246.7 1095.2,248.3 1095.6,246.3 1096.0,244.9 1096.3,247.4 1096.7,248.7 1097.0,247.1 1097.4,247.4 1097.7,248.2 1098.1,248.0 1098.4,247.9 1098.8,248.2 1099.1,251.0 1099.4,248.7 1099.8,249.8 1100.1,251.3 1100.5,251.5 1100.8,248.1 1101.1,249.6 1101.5,249.2 1101.8,250.9 1102.1,248.5 1102.4,249.8 1102.8,251.6 1103.1,252.4 1103.4,250.9 1103.7,252.8 1104.1,254.2 1104.4,251.9 1104.7,254.7 1105.0,253.4 1105.3,251.2 1105.7,254.1 1106.0,254.3 1106.3,256.0 1106.6,253.9 1106.9,256.8 1107.2,255.1 1107.5,255.9 1107.8,255.4 1108.1,256.4 1108.4,257.3 1108.7,256.3 1109.0,256.0 1109.3,257.4 1109.6,256.7 1109.9,257.5 1110.2,258.3 1110.5,257.8 1110.8,258.2 1111.1,258.2 1111.4,258.4 1111.7,259.2 1112.0,259.7 1112.3,259.2 1112.6,257.6 1112.8,258.0 1113.1,260.2 1113.4,260.9 1113.7,260.9 1114.0,259.6 1114.3,260.4 1114.5,259.9 1114.8,260.9 1115.1,260.6 1115.4,260.1 1115.7,261.5 1115.9,261.2 1116.2,263.0 1116.5,262.4 1116.7,260.5 1117.0,262.5 1117.3,261.3 1117.6,261.7 1117.8,262.1 1118.1,261.4 1118.4,264.3 1118.6,263.2 1118.9,262.1 1119.2,263.7 1119.4,261.4 1119.7,264.0 1119.9,263.4 1120.2,263.6 1120.5,264.2 1120.7,263.8 1121.0,264.2 1121.2,263.3 1121.5,264.3 1121.7,264.0 1122.0,264.6 1122.3,264.2 1122.5,264.7 1122.8,264.2 1123.0,263.9 1123.3,264.3 1123.5,265.4 1123.8,264.8 1124.0,265.1 1124.2,265.0 1124.5,265.8 1124.7,264.9 1125.0,264.0 1125.2,265.2 1125.5,265.3 1125.7,266.4 1126.0,265.4 1126.2,265.7 1126.4,266.4 1126.7,266.6 1126.9,266.1 1127.1,267.0 1127.4,266.2 1127.6,266.6 1127.9,266.2 1128.1,265.6 1128.3,266.5 1128.6,266.6 1128.8,266.6 1129.0,268.2 1129.3,266.4 1129.5,267.5 1129.7,268.1 1129.9,267.8 1130.2,267.7 1130.4,267.2"/>
<polyline fill="none" stroke="#000" stroke-width="1.6" stroke-dasharray="1.4 2.4" points="739.2,291.5 770.1,295.1 792.1,300.1 809.1,297.8 823.1,293.9 834.8,296.2 845.0,307.9 854.0,301.7 861.9,293.6 868.8,306.1 875.8,295.2 887.7,295.2 895.6,289.2 902.6,295.2 907.5,285.2 910.5,277.3 914.5,284.2 919.4,269.4 925.4,278.3 933.3,265.4 937.3,266.4 941.3,256.5 947.2,251.5 953.2,246.5 957.1,256.5 963.1,231.7 969.0,233.7 976.0,222.7 981.0,226.7 985.9,214.8 986.5,210.3 987.9,216.1 989.4,219.7 990.8,215.2 992.2,215.6 993.6,208.6 994.9,213.0 996.3,212.4 997.6,217.4 998.9,214.4 1000.1,213.6 1001.4,209.9 1002.6,208.6 1003.8,210.7 1005.0,214.5 1006.1,202.0 1007.3,199.6 1008.4,214.2 1009.5,212.0 1010.6,208.6 1011.7,208.0 1012.8,205.6 1013.8,206.1 1014.9,203.5 1015.9,210.1 1016.9,206.9 1017.9,200.6 1018.9,205.2 1019.9,204.7 1020.8,204.1 1021.8,212.6 1022.7,209.7 1023.6,198.2 1024.6,207.7 1025.5,209.6 1026.4,210.4 1027.2,208.7 1028.1,199.5 1029.0,209.0 1029.8,206.3 1030.7,211.0 1031.5,207.9 1032.3,201.8 1033.1,212.6 1034.0,203.2 1034.8,210.5 1035.5,208.5 1036.3,205.7 1037.1,200.8 1037.9,205.1 1038.6,205.2 1039.4,207.4 1040.1,207.6 1040.9,213.1 1041.6,210.1 1042.3,212.5 1043.0,206.5 1043.7,208.8 1044.4,212.8 1045.1,213.2 1045.8,212.8 1046.5,210.2 1047.2,209.1 1047.9,216.5 1048.5,210.8 1049.2,212.0 1049.9,217.1 1050.5,213.9 1051.1,212.6 1051.8,216.5 1052.4,214.4 1053.0,218.3 1053.7,215.4 1054.3,214.3 1054.9,221.4 1055.5,219.5 1056.1,217.5 1056.7,217.3 1057.3,215.2 1057.9,217.1 1058.5,216.1 1059.1,220.8 1059.6,221.8 1060.2,219.1 1060.8,219.1 1061.3,221.2 1061.9,220.8 1062.5,222.1 1063.0,222.4 1063.6,222.5 1064.1,223.2 1064.6,220.6 1065.2,223.9 1065.7,219.4 1066.2,223.3 1066.8,222.9 1067.3,224.3 1067.8,223.6 1068.3,224.5 1068.8,221.5 1069.3,223.8 1069.8,223.6 1070.3,225.8 1070.8,225.8 1071.3,225.2 1071.8,225.4 1072.3,225.4 1072.8,226.6 1073.3,227.7 1073.8,228.4 1074.2,227.5 1074.7,226.5 1075.2,227.2 1075.6,229.5 1076.1,227.5 1076.6,228.7 1077.0,226.5 1077.5,231.0 1077.9,230.3 1078.4,229.8 1078.8,230.7 1079.3,232.0 1079.7,231.5 1080.2,232.3 1080.6,232.4 1081.0,231.4 1081.5,231.1 1081.9,234.5 1082.3,233.2 1082.7,235.3 1083.2,235.7 1083.6,234.3 1084.0,234.5 1084.4,234.9 1084.8,237.4 1085.2,236.2 1085.7,236.3 1086.1,237.7 1086.5,236.4 1086.9,237.1 1087.3,237.4 1087.7,238.3 1088.1,237.6 1088.5,238.5 1088.9,239.5 1089.2,238.9 1089.6,239.2 1090.0,240.7 1090.4,239.9 1090.8,240.9 1091.2,242.0 1091.5,241.8 1091.9,243.4 1092.3,242.3 1092.7,241.6 1093.0,243.3 1093.4,243.4 1093.8,244.1 1094.1,242.8 1094.5,244.0 1094.9,245.2 1095.2,244.8 1095.6,245.7 1096.0,244.7 1096.3,245.8 1096.7,245.7 1097.0,247.1 1097.4,245.6 1097.7,247.3 1098.1,246.9 1098.4,247.1 1098.8,246.9 1099.1,246.8 1099.4,246.8 1099.8,248.3 1100.1,247.7 1100.5,249.3 1100.8,249.1 1101.1,249.4 1101.5,250.0 1101.8,249.5 1102.1,250.3 1102.4,248.9 1102.8,249.9 1103.1,251.0 1103.4,250.6 1103.7,251.9 1104.1,251.2 1104.4,250.8 1104.7,252.4 1105.0,251.8 1105.3,251.9 1105.7,252.1 1106.0,252.0 1106.3,252.4 1106.6,253.3 1106.9,252.7 1107.2,253.2 1107.5,253.0 1107.8,253.7 1108.1,254.2 1108.4,254.4 1108.7,254.1 1109.0,254.1 1109.3,254.9 1109.6,255.4 1109.9,255.4 1110.2,256.5 1110.5,255.5 1110.8,255.4 1111.1,255.7 1111.4,256.5 1111.7,255.7 1112.0,256.3 1112.3,255.8 1112.6,256.6 1112.8,257.2 1113.1,257.6 1113.4,257.6 1113.7,257.9 1114.0,257.3 1114.3,258.5 1114.5,258.8 1114.8,257.4 1115.1,257.8 1115.4,258.8 1115.7,259.0 1115.9,259.4 1116.2,259.1 1116.5,258.7 1116.7,259.0 1117.0,260.1 1117.3,259.6 1117.6,259.0 1117.8,259.8 1118.1,260.3 1118.4,260.2 1118.6,260.6 1118.9,260.7 1119.2,260.6 1119.4,260.3 1119.7,260.9 1119.9,261.3 1120.2,260.9 1120.5,261.7 1120.7,262.1 1121.0,261.8 1121.2,261.8 1121.5,261.8 1121.7,261.6 1122.0,262.6 1122.3,262.0 1122.5,262.0 1122.8,263.1 1123.0,262.9 1123.3,262.5 1123.5,262.9 1123.8,263.0 1124.0,263.3 1124.2,262.5 1124.5,263.0 1124.7,263.0 1125.0,263.6 1125.2,263.5 1125.5,264.0 1125.7,264.6 1126.0,264.3 1126.2,264.0 1126.4,264.4 1126.7,264.6 1126.9,264.1 1127.1,265.2 1127.4,265.0 1127.6,265.3 1127.9,265.6 1128.1,265.4 1128.3,265.9 1128.6,265.8 1128.8,265.5 1129.0,265.9 1129.3,266.0 1129.5,266.4 1129.7,266.8 1129.9,266.0 1130.2,266.4 1130.4,266.2"/>
<polyline fill="none" stroke="#000" stroke-width="1.75" stroke-dasharray="7 3 1.4 3" points="739.2,255.2 770.1,249.5 792.1,254.6 809.1,257.3 823.1,254.9 834.8,262.7 845.0,260.8 854.0,266.6 861.9,269.4 875.8,277.3 887.7,282.3 897.6,287.2 907.5,293.2 915.5,299.1 923.4,302.1 931.3,301.1 937.3,304.1 943.3,309.0 949.2,305.1 950.9,302.8 953.2,303.7 955.5,301.7 957.7,303.6 959.9,302.1 962.0,304.1 964.0,302.6 966.0,304.3 967.9,304.2 969.8,305.7 971.6,304.1 973.4,301.9 975.2,300.5 976.9,298.1 978.6,301.7 980.2,297.3 981.8,299.4 983.4,299.7 984.9,297.6 986.5,295.2 987.9,296.4 989.4,296.4 990.8,294.6 992.2,289.6 993.6,289.9 994.9,289.7 996.3,290.9 997.6,287.5 998.9,287.1 1000.1,288.0 1001.4,284.2 1002.6,284.9 1003.8,282.7 1005.0,284.1 1006.1,283.3 1007.3,282.9 1008.4,284.0 1009.5,283.3 1010.6,282.4 1011.7,281.0 1012.8,280.0 1013.8,278.4 1014.9,279.7 1015.9,279.2 1016.9,277.4 1017.9,276.1 1018.9,275.6 1019.9,276.8 1020.8,276.9 1021.8,276.0 1022.7,273.2 1023.6,273.1 1024.6,272.6 1025.5,275.3 1026.4,274.0 1027.2,272.0 1028.1,273.7 1029.0,273.3 1029.8,273.1 1030.7,273.1 1031.5,271.8 1032.3,271.3 1033.1,272.9 1034.0,274.3 1034.8,270.7 1035.5,270.5 1036.3,272.4 1037.1,270.4 1037.9,269.4 1038.6,271.3 1039.4,272.7 1040.1,272.8 1040.9,272.5 1041.6,271.0 1042.3,271.8 1043.0,271.0 1043.7,270.9 1044.4,271.7 1045.1,270.2 1045.8,272.0 1046.5,271.6 1047.2,271.6 1047.9,271.4 1048.5,270.4 1049.2,272.7 1049.9,272.7 1050.5,270.8 1051.1,270.9 1051.8,270.5 1052.4,270.7 1053.0,271.4 1053.7,271.8 1054.3,270.4 1054.9,270.3 1055.5,270.0 1056.1,270.7 1056.7,270.5 1057.3,270.9 1057.9,270.9 1058.5,269.8 1059.1,270.3 1059.6,271.1 1060.2,270.3 1060.8,270.4 1061.3,269.8 1061.9,271.4 1062.5,271.1 1063.0,270.6 1063.6,271.3 1064.1,271.7 1064.6,271.7 1065.2,270.7 1065.7,270.9 1066.2,271.2 1066.8,271.6 1067.3,270.0 1067.8,271.1 1068.3,270.3 1068.8,271.8 1069.3,271.1 1069.8,271.6 1070.3,271.1 1070.8,272.1 1071.3,271.7 1071.8,271.0 1072.3,270.5 1072.8,271.7 1073.3,271.7 1073.8,271.3 1074.2,271.4 1074.7,271.2 1075.2,272.1 1075.6,272.2 1076.1,271.3 1076.6,271.2 1077.0,271.9 1077.5,270.9 1077.9,271.6 1078.4,271.7 1078.8,271.7 1079.3,272.4 1079.7,271.4 1080.2,272.1 1080.6,272.0 1081.0,271.9 1081.5,272.3 1081.9,272.1 1082.3,272.3 1082.7,271.9 1083.2,271.8 1083.6,272.9 1084.0,272.8 1084.4,272.5 1084.8,272.1 1085.2,272.8 1085.7,271.8 1086.1,272.3 1086.5,272.5 1086.9,272.4 1087.3,271.9 1087.7,273.5 1088.1,272.1 1088.5,273.4 1088.9,273.8 1089.2,273.2 1089.6,273.1 1090.0,272.4 1090.4,272.9 1090.8,272.2 1091.2,272.9 1091.5,273.2 1091.9,272.4 1092.3,273.0 1092.7,272.8 1093.0,273.7 1093.4,273.3 1093.8,273.5 1094.1,273.2 1094.5,273.4 1094.9,273.4 1095.2,272.9 1095.6,273.8 1096.0,273.3 1096.3,273.0 1096.7,273.5 1097.0,273.8 1097.4,273.9 1097.7,274.0 1098.1,273.8 1098.4,273.7 1098.8,273.6 1099.1,273.3 1099.4,274.1 1099.8,273.8 1100.1,274.1 1100.5,273.6 1100.8,273.8 1101.1,274.0 1101.5,273.6 1101.8,273.9 1102.1,273.9 1102.4,274.0 1102.8,273.5 1103.1,273.6 1103.4,273.5 1103.7,274.0 1104.1,273.8 1104.4,274.8 1104.7,273.9 1105.0,274.7 1105.3,274.5 1105.7,274.1 1106.0,274.4 1106.3,273.9 1106.6,274.2 1106.9,274.3 1107.2,274.9 1107.5,274.1 1107.8,274.3 1108.1,274.5 1108.4,274.5 1108.7,273.8 1109.0,274.6 1109.3,274.4 1109.6,274.3 1109.9,274.5 1110.2,274.3 1110.5,274.1 1110.8,274.5 1111.1,274.9 1111.4,274.4 1111.7,274.6 1112.0,274.4 1112.3,274.7 1112.6,274.6 1112.8,274.3 1113.1,274.9 1113.4,274.4 1113.7,274.1 1114.0,274.5 1114.3,274.6 1114.5,274.7 1114.8,274.6 1115.1,274.6 1115.4,275.3 1115.7,274.4 1115.9,274.6 1116.2,274.8 1116.5,274.9 1116.7,274.7 1117.0,275.0 1117.3,274.7 1117.6,275.2 1117.8,274.5 1118.1,275.0 1118.4,275.0 1118.6,274.7 1118.9,275.0 1119.2,275.0 1119.4,274.9 1119.7,274.9 1119.9,275.1 1120.2,275.2 1120.5,275.3 1120.7,275.0 1121.0,275.2 1121.2,275.2 1121.5,275.3 1121.7,275.1 1122.0,274.5 1122.3,275.3 1122.5,275.1 1122.8,275.0 1123.0,274.9 1123.3,275.0 1123.5,274.9 1123.8,274.8 1124.0,274.9 1124.2,275.2 1124.5,275.0 1124.7,275.1 1125.0,275.6 1125.2,275.1 1125.5,275.3 1125.7,275.0 1126.0,275.2 1126.2,275.1 1126.4,275.2 1126.7,274.9 1126.9,275.2 1127.1,275.3 1127.4,275.0 1127.6,275.2 1127.9,275.4 1128.1,275.3 1128.3,275.3 1128.6,275.2 1128.8,275.4 1129.0,275.5 1129.3,275.2 1129.5,275.4 1129.7,275.2 1129.9,275.4 1130.2,275.5 1130.4,275.1"/>
<polyline fill="none" stroke="#000" stroke-width="1.75" stroke-linejoin="round" points="739.2,417.7 770.1,433.0 792.1,442.0 809.1,430.2 823.1,430.2 834.8,419.7 845.0,404.1 854.0,406.8 861.7,392.2 869.1,388.0 877.6,388.0 887.2,389.0 896.7,386.9 902.0,375.2 906.9,365.0 911.2,367.8 914.8,353.6 918.4,364.6 925.4,352.3 929.7,354.4 933.9,352.9 937.1,349.3 939.7,351.4 943.1,338.1 945.6,349.7 948.8,346.6 952.0,347.6 954.1,344.4 957.3,332.7 959.4,335.3 962.2,352.9 965.8,338.1 969.0,340.2 971.1,352.9 973.2,340.2 975.3,347.6 977.5,345.5 980.0,332.7 982.8,351.9 983.4,348.2 984.9,344.2 986.5,346.4 987.9,352.2 989.4,341.9 990.8,364.6 992.2,354.5 993.6,358.6 994.9,356.6 996.3,361.3 997.6,356.8 998.9,362.5 1000.1,363.2 1001.4,362.7 1002.6,358.1 1003.8,365.9 1005.0,361.1 1006.1,362.4 1007.3,362.5 1008.4,366.5 1009.5,356.6 1010.6,367.3 1011.7,364.9 1012.8,359.9 1013.8,370.6 1014.9,369.7 1015.9,366.6 1016.9,363.3 1017.9,366.9 1018.9,367.0 1019.9,378.4 1020.8,368.6 1021.8,377.2 1022.7,365.5 1023.6,378.0 1024.6,383.7 1025.5,377.8 1026.4,371.4 1027.2,377.8 1028.1,381.6 1029.0,379.6 1029.8,380.5 1030.7,382.7 1031.5,383.3 1032.3,379.9 1033.1,386.9 1034.0,389.6 1034.8,389.4 1035.5,381.9 1036.3,386.0 1037.1,392.8 1037.9,380.9 1038.6,388.8 1039.4,385.0 1040.1,391.3 1040.9,388.5 1041.6,393.8 1042.3,394.4 1043.0,391.4 1043.7,394.9 1044.4,393.2 1045.1,399.1 1045.8,395.6 1046.5,392.5 1047.2,395.6 1047.9,403.4 1048.5,401.2 1049.2,400.1 1049.9,397.3 1050.5,393.9 1051.1,400.3 1051.8,399.9 1052.4,393.9 1053.0,398.6 1053.7,402.2 1054.3,399.6 1054.9,399.6 1055.5,401.8 1056.1,402.4 1056.7,404.0 1057.3,400.7 1057.9,403.2 1058.5,398.6 1059.1,399.3 1059.6,403.7 1060.2,403.5 1060.8,402.4 1061.3,401.9 1061.9,408.8 1062.5,406.5 1063.0,402.8 1063.6,401.8 1064.1,411.8 1064.6,407.4 1065.2,403.6 1065.7,406.6 1066.2,411.9 1066.8,414.8 1067.3,416.4 1067.8,414.1 1068.3,411.7 1068.8,411.6 1069.3,414.5 1069.8,416.9 1070.3,414.2 1070.8,413.2 1071.3,413.4 1071.8,417.8 1072.3,415.0 1072.8,420.8 1073.3,414.8 1073.8,410.1 1074.2,414.0 1074.7,413.7 1075.2,416.2 1075.6,419.8 1076.1,414.8 1076.6,418.6 1077.0,421.9 1077.5,419.6 1077.9,419.6 1078.4,420.4 1078.8,421.0 1079.3,417.7 1079.7,420.3 1080.2,418.3 1080.6,417.8 1081.0,420.6 1081.5,419.6 1081.9,422.6 1082.3,417.4 1082.7,422.8 1083.2,422.6 1083.6,421.9 1084.0,421.2 1084.4,420.6 1084.8,422.5 1085.2,423.6 1085.7,422.6 1086.1,425.2 1086.5,422.6 1086.9,426.4 1087.3,423.8 1087.7,426.3 1088.1,424.6 1088.5,429.9 1088.9,422.1 1089.2,428.9 1089.6,427.5 1090.0,428.5 1090.4,424.1 1090.8,425.9 1091.2,423.6 1091.5,426.8 1091.9,426.9 1092.3,427.2 1092.7,426.8 1093.0,425.9 1093.4,428.1 1093.8,430.7 1094.1,429.0 1094.5,427.6 1094.9,429.5 1095.2,429.9 1095.6,427.8 1096.0,428.5 1096.3,430.9 1096.7,430.3 1097.0,428.1 1097.4,429.5 1097.7,428.7 1098.1,432.2 1098.4,430.0 1098.8,429.8 1099.1,429.2 1099.4,433.4 1099.8,431.4 1100.1,432.6 1100.5,430.9 1100.8,433.2 1101.1,432.0 1101.5,431.4 1101.8,432.3 1102.1,432.7 1102.4,433.5 1102.8,433.7 1103.1,430.0 1103.4,433.2 1103.7,431.8 1104.1,433.7 1104.4,434.3 1104.7,433.8 1105.0,433.5 1105.3,434.7 1105.7,434.4 1106.0,433.1 1106.3,435.3 1106.6,435.6 1106.9,435.1 1107.2,435.5 1107.5,434.7 1107.8,434.9 1108.1,435.4 1108.4,434.4 1108.7,437.1 1109.0,436.4 1109.3,437.6 1109.6,435.7 1109.9,437.6 1110.2,434.4 1110.5,436.4 1110.8,437.9 1111.1,436.8 1111.4,436.0 1111.7,438.2 1112.0,437.1 1112.3,437.9 1112.6,437.6 1112.8,437.6 1113.1,438.0 1113.4,435.6 1113.7,436.1 1114.0,440.5 1114.3,437.1 1114.5,438.3 1114.8,439.0 1115.1,440.5 1115.4,439.5 1115.7,439.1 1115.9,438.9 1116.2,437.8 1116.5,437.1 1116.7,438.7 1117.0,439.1 1117.3,440.9 1117.6,439.7 1117.8,439.1 1118.1,438.8 1118.4,440.3 1118.6,439.6 1118.9,441.1 1119.2,441.6 1119.4,440.7 1119.7,440.3 1119.9,440.6 1120.2,441.3 1120.5,439.7 1120.7,440.4 1121.0,440.2 1121.2,440.3 1121.5,442.1 1121.7,440.6 1122.0,441.1 1122.3,441.9 1122.5,440.9 1122.8,442.1 1123.0,441.0 1123.3,441.7 1123.5,441.0 1123.8,441.4 1124.0,442.8 1124.2,441.5 1124.5,441.8 1124.7,442.8 1125.0,442.0 1125.2,442.3 1125.5,441.2 1125.7,442.9 1126.0,443.7 1126.2,443.0 1126.4,442.3 1126.7,442.8 1126.9,440.9 1127.1,442.6 1127.4,441.8 1127.6,443.0 1127.9,443.5 1128.1,442.6 1128.3,442.5 1128.6,443.2 1128.8,441.9 1129.0,442.8 1129.3,442.6 1129.5,442.8 1129.7,444.6 1129.9,443.3 1130.2,442.7 1130.4,442.1"/>
<polyline fill="none" stroke="#000" stroke-width="1.6" stroke-dasharray="1.4 2.4" points="739.2,429.5 770.1,434.5 792.1,439.2 809.1,431.4 823.1,435.3 834.8,428.3 845.0,417.4 854.0,424.4 858.5,417.7 869.1,411.4 875.5,422.0 885.1,419.9 896.7,427.3 903.1,414.5 909.5,419.9 913.7,414.5 918.0,428.3 923.3,419.9 928.6,416.7 932.9,420.9 937.1,417.7 943.5,424.1 947.7,428.3 952.0,429.4 957.3,418.8 959.9,436.7 962.0,428.8 964.0,432.8 966.0,424.1 967.9,432.7 969.8,440.0 971.6,441.5 973.4,429.6 975.2,430.1 976.9,431.4 978.6,424.1 980.2,440.1 981.8,439.4 983.4,441.2 984.9,444.1 986.5,440.4 987.9,442.2 989.4,443.4 990.8,443.1 992.2,439.4 993.6,437.4 994.9,444.6 996.3,444.5 997.6,439.1 998.9,446.3 1000.1,444.1 1001.4,443.0 1002.6,441.5 1003.8,443.5 1005.0,447.0 1006.1,441.6 1007.3,448.2 1008.4,444.6 1009.5,445.7 1010.6,449.9 1011.7,445.8 1012.8,446.5 1013.8,443.2 1014.9,445.0 1015.9,445.5 1016.9,443.3 1017.9,442.8 1018.9,448.1 1019.9,448.6 1020.8,442.1 1021.8,442.9 1022.7,448.0 1023.6,449.6 1024.6,443.0 1025.5,445.5 1026.4,450.9 1027.2,453.8 1028.1,451.1 1029.0,444.6 1029.8,452.9 1030.7,448.8 1031.5,447.9 1032.3,449.9 1033.1,445.5 1034.0,445.9 1034.8,440.6 1035.5,451.9 1036.3,448.7 1037.1,446.4 1037.9,447.7 1038.6,447.3 1039.4,445.7 1040.1,445.0 1040.9,446.1 1041.6,439.8 1042.3,442.2 1043.0,446.4 1043.7,451.6 1044.4,449.1 1045.1,450.1 1045.8,450.0 1046.5,447.5 1047.2,449.1 1047.9,448.3 1048.5,447.2 1049.2,448.5 1049.9,449.7 1050.5,447.3 1051.1,446.5 1051.8,449.0 1052.4,448.5 1053.0,448.8 1053.7,451.2 1054.3,448.7 1054.9,448.1 1055.5,446.4 1056.1,445.3 1056.7,449.3 1057.3,449.4 1057.9,449.1 1058.5,449.0 1059.1,446.3 1059.6,448.6 1060.2,448.0 1060.8,448.9 1061.3,446.3 1061.9,449.8 1062.5,449.4 1063.0,444.8 1063.6,446.6 1064.1,446.7 1064.6,447.7 1065.2,449.2 1065.7,443.0 1066.2,448.5 1066.8,447.6 1067.3,445.1 1067.8,444.8 1068.3,447.1 1068.8,445.3 1069.3,444.8 1069.8,444.8 1070.3,449.3 1070.8,441.7 1071.3,448.7 1071.8,442.2 1072.3,447.0 1072.8,443.9 1073.3,444.7 1073.8,443.3 1074.2,443.7 1074.7,446.5 1075.2,442.7 1075.6,440.0 1076.1,443.0 1076.6,439.5 1077.0,442.2 1077.5,443.1 1077.9,442.2 1078.4,442.2 1078.8,445.9 1079.3,446.4 1079.7,445.3 1080.2,445.0 1080.6,443.1 1081.0,441.2 1081.5,441.2 1081.9,440.6 1082.3,441.0 1082.7,441.4 1083.2,443.1 1083.6,444.2 1084.0,442.8 1084.4,443.2 1084.8,441.3 1085.2,443.1 1085.7,441.1 1086.1,442.1 1086.5,444.7 1086.9,442.7 1087.3,441.9 1087.7,443.0 1088.1,441.4 1088.5,442.4 1088.9,441.1 1089.2,443.4 1089.6,442.1 1090.0,442.3 1090.4,442.6 1090.8,442.6 1091.2,442.6 1091.5,442.3 1091.9,442.0 1092.3,442.9 1092.7,442.8 1093.0,443.6 1093.4,443.9 1093.8,444.1 1094.1,442.4 1094.5,442.0 1094.9,442.9 1095.2,442.6 1095.6,443.8 1096.0,442.4 1096.3,443.6 1096.7,441.4 1097.0,443.4 1097.4,442.2 1097.7,441.7 1098.1,441.2 1098.4,441.5 1098.8,442.1 1099.1,444.3 1099.4,443.7 1099.8,443.2 1100.1,442.3 1100.5,443.1 1100.8,441.7 1101.1,441.1 1101.5,441.8 1101.8,442.8 1102.1,445.1 1102.4,441.2 1102.8,442.0 1103.1,442.0 1103.4,441.9 1103.7,441.8 1104.1,442.4 1104.4,441.9 1104.7,442.9 1105.0,441.4 1105.3,442.3 1105.7,442.1 1106.0,442.5 1106.3,443.4 1106.6,442.2 1106.9,442.9 1107.2,442.5 1107.5,443.1 1107.8,443.3 1108.1,442.8 1108.4,443.8 1108.7,442.3 1109.0,444.4 1109.3,442.2 1109.6,443.4 1109.9,443.6 1110.2,444.2 1110.5,443.1 1110.8,443.6 1111.1,443.4 1111.4,443.6 1111.7,443.5 1112.0,443.3 1112.3,443.3 1112.6,443.9 1112.8,443.4 1113.1,443.0 1113.4,442.4 1113.7,442.8 1114.0,442.4 1114.3,444.0 1114.5,444.1 1114.8,442.7 1115.1,443.4 1115.4,444.2 1115.7,443.3 1115.9,443.1 1116.2,442.6 1116.5,443.2 1116.7,443.7 1117.0,443.9 1117.3,444.2 1117.6,444.0 1117.8,444.3 1118.1,444.7 1118.4,444.3 1118.6,444.0 1118.9,443.1 1119.2,444.2 1119.4,444.2 1119.7,444.9 1119.9,443.3 1120.2,443.9 1120.5,443.0 1120.7,444.3 1121.0,444.6 1121.2,443.6 1121.5,444.5 1121.7,444.0 1122.0,444.6 1122.3,444.4 1122.5,444.0 1122.8,443.5 1123.0,444.0 1123.3,444.7 1123.5,444.8 1123.8,444.2 1124.0,444.8 1124.2,445.4 1124.5,444.1 1124.7,444.7 1125.0,444.8 1125.2,444.2 1125.5,444.4 1125.7,445.7 1126.0,445.0 1126.2,445.2 1126.4,444.4 1126.7,445.1 1126.9,445.0 1127.1,445.3 1127.4,444.4 1127.6,444.0 1127.9,445.4 1128.1,445.7 1128.3,445.2 1128.6,445.5 1128.8,444.5 1129.0,445.7 1129.3,445.5 1129.5,444.7 1129.7,445.0 1129.9,445.8 1130.2,446.1 1130.4,445.5"/>
<polyline fill="none" stroke="#000" stroke-width="1.75" stroke-dasharray="7 3 1.4 3" points="739.2,453.2 770.1,455.1 792.1,454.0 809.1,446.2 823.1,443.1 834.8,439.2 845.0,436.9 854.0,426.7 858.5,425.2 864.9,424.1 869.1,426.2 873.4,416.7 879.7,417.7 887.2,419.9 892.5,412.4 901.0,407.1 907.4,396.5 915.9,389.0 924.4,386.9 928.6,390.1 932.9,385.9 940.3,382.7 943.5,372.0 945.9,371.7 948.4,372.5 950.9,369.6 953.2,369.6 955.5,371.4 957.7,372.4 959.9,369.6 962.0,366.5 964.0,364.2 966.0,362.0 967.9,363.6 969.8,362.4 971.6,362.2 973.4,363.1 975.2,364.2 976.9,361.9 978.6,361.8 980.2,361.8 981.8,364.8 983.4,363.7 984.9,364.8 986.5,361.4 987.9,363.2 989.4,362.4 990.8,361.6 992.2,362.3 993.6,363.6 994.9,362.3 996.3,364.5 997.6,365.6 998.9,366.1 1000.1,366.5 1001.4,363.3 1002.6,365.9 1003.8,365.1 1005.0,367.6 1006.1,367.0 1007.3,367.6 1008.4,368.4 1009.5,367.6 1010.6,368.8 1011.7,368.4 1012.8,372.5 1013.8,370.2 1014.9,371.5 1015.9,370.1 1016.9,371.2 1017.9,372.6 1018.9,375.2 1019.9,375.8 1020.8,375.9 1021.8,375.5 1022.7,379.1 1023.6,376.8 1024.6,377.8 1025.5,380.1 1026.4,379.3 1027.2,381.5 1028.1,383.0 1029.0,382.7 1029.8,383.9 1030.7,384.3 1031.5,384.3 1032.3,383.2 1033.1,385.1 1034.0,386.9 1034.8,385.8 1035.5,387.5 1036.3,388.8 1037.1,390.5 1037.9,388.3 1038.6,389.7 1039.4,391.0 1040.1,391.8 1040.9,390.4 1041.6,394.1 1042.3,392.0 1043.0,394.3 1043.7,393.7 1044.4,394.8 1045.1,396.6 1045.8,396.2 1046.5,396.2 1047.2,395.7 1047.9,396.5 1048.5,396.4 1049.2,400.1 1049.9,397.3 1050.5,397.0 1051.1,401.3 1051.8,401.5 1052.4,400.5 1053.0,402.1 1053.7,401.1 1054.3,401.7 1054.9,403.1 1055.5,403.4 1056.1,403.1 1056.7,405.3 1057.3,405.0 1057.9,404.9 1058.5,404.1 1059.1,405.7 1059.6,405.7 1060.2,406.3 1060.8,407.4 1061.3,406.6 1061.9,407.7 1062.5,408.5 1063.0,408.5 1063.6,410.5 1064.1,407.6 1064.6,409.3 1065.2,408.8 1065.7,410.1 1066.2,412.4 1066.8,409.6 1067.3,411.0 1067.8,412.1 1068.3,412.1 1068.8,413.0 1069.3,411.6 1069.8,413.8 1070.3,412.7 1070.8,412.9 1071.3,414.5 1071.8,414.8 1072.3,414.3 1072.8,414.6 1073.3,415.4 1073.8,415.8 1074.2,416.1 1074.7,415.8 1075.2,415.2 1075.6,418.1 1076.1,417.6 1076.6,417.0 1077.0,417.1 1077.5,418.0 1077.9,418.5 1078.4,417.7 1078.8,420.3 1079.3,420.0 1079.7,419.8 1080.2,420.5 1080.6,420.8 1081.0,421.6 1081.5,421.3 1081.9,422.3 1082.3,422.8 1082.7,421.9 1083.2,422.1 1083.6,422.2 1084.0,422.9 1084.4,422.8 1084.8,423.6 1085.2,424.0 1085.7,424.5 1086.1,423.8 1086.5,425.4 1086.9,424.8 1087.3,425.2 1087.7,425.3 1088.1,424.7 1088.5,426.3 1088.9,425.4 1089.2,427.3 1089.6,426.9 1090.0,428.1 1090.4,427.8 1090.8,428.1 1091.2,428.8 1091.5,428.2 1091.9,429.4 1092.3,428.7 1092.7,429.2 1093.0,428.9 1093.4,429.8 1093.8,430.2 1094.1,429.8 1094.5,429.7 1094.9,430.6 1095.2,431.0 1095.6,431.0 1096.0,430.8 1096.3,431.2 1096.7,431.6 1097.0,430.7 1097.4,431.8 1097.7,433.0 1098.1,431.8 1098.4,432.5 1098.8,433.6 1099.1,433.3 1099.4,433.6 1099.8,433.2 1100.1,432.8 1100.5,434.7 1100.8,433.9 1101.1,434.1 1101.5,434.9 1101.8,434.7 1102.1,434.5 1102.4,434.1 1102.8,434.7 1103.1,434.9 1103.4,434.8 1103.7,434.9 1104.1,435.0 1104.4,435.5 1104.7,435.5 1105.0,436.1 1105.3,436.5 1105.7,436.4 1106.0,436.4 1106.3,437.2 1106.6,437.0 1106.9,436.2 1107.2,436.7 1107.5,437.2 1107.8,436.9 1108.1,437.6 1108.4,436.8 1108.7,436.8 1109.0,438.1 1109.3,438.0 1109.6,437.3 1109.9,438.1 1110.2,438.7 1110.5,437.9 1110.8,438.0 1111.1,438.1 1111.4,438.3 1111.7,438.1 1112.0,438.7 1112.3,438.5 1112.6,439.1 1112.8,440.0 1113.1,439.0 1113.4,439.8 1113.7,440.0 1114.0,438.9 1114.3,439.8 1114.5,439.9 1114.8,439.9 1115.1,440.4 1115.4,440.1 1115.7,440.5 1115.9,440.3 1116.2,440.5 1116.5,440.4 1116.7,441.5 1117.0,440.9 1117.3,440.7 1117.6,441.7 1117.8,441.7 1118.1,441.2 1118.4,441.1 1118.6,441.2 1118.9,441.8 1119.2,441.4 1119.4,441.4 1119.7,441.9 1119.9,441.6 1120.2,441.8 1120.5,442.4 1120.7,442.2 1121.0,442.3 1121.2,442.2 1121.5,442.5 1121.7,442.1 1122.0,442.5 1122.3,442.6 1122.5,442.3 1122.8,442.1 1123.0,442.6 1123.3,442.5 1123.5,442.8 1123.8,442.5 1124.0,442.9 1124.2,443.0 1124.5,443.4 1124.7,443.4 1125.0,443.1 1125.2,443.4 1125.5,443.0 1125.7,443.4 1126.0,443.3 1126.2,443.6 1126.4,443.4 1126.7,443.4 1126.9,443.3 1127.1,443.8 1127.4,443.6 1127.6,443.8 1127.9,443.8 1128.1,443.3 1128.3,444.0 1128.6,443.8 1128.8,444.0 1129.0,444.1 1129.3,443.7 1129.5,444.1 1129.7,444.2 1129.9,444.3 1130.2,444.5 1130.4,444.2"/>
<polyline fill="none" stroke="#000" stroke-width="1.75" stroke-linejoin="round" points="739.2,493.9 770.1,485.6 792.1,471.6 809.1,484.3 823.1,489.4 834.8,489.7 845.0,492.0 854.0,492.6 862.0,512.0 869.3,496.7 876.1,503.5 881.7,504.0 887.4,499.5 895.3,507.4 902.1,508.1 910.0,526.7 918.0,533.4 922.5,529.4 929.3,542.5 935.0,550.4 938.4,540.2 942.9,567.4 946.3,555.0 949.7,559.5 954.2,572.0 958.8,575.4 962.2,581.0 965.6,591.2 971.2,574.7 973.4,594.6 975.2,592.5 976.9,606.8 978.6,599.2 980.2,599.1 981.8,600.9 983.4,596.6 984.9,596.0 986.5,603.2 987.9,600.0 989.4,608.0 990.8,604.6 992.2,598.2 993.6,600.5 994.9,602.8 996.3,597.3 997.6,606.6 998.9,605.6 1000.1,612.0 1001.4,603.8 1002.6,607.3 1003.8,611.7 1005.0,614.1 1006.1,607.6 1007.3,621.5 1008.4,613.1 1009.5,622.6 1010.6,615.6 1011.7,615.0 1012.8,611.2 1013.8,616.4 1014.9,627.7 1015.9,614.1 1016.9,624.1 1017.9,623.1 1018.9,615.2 1019.9,621.7 1020.8,622.5 1021.8,614.5 1022.7,613.2 1023.6,620.0 1024.6,615.8 1025.5,622.1 1026.4,613.7 1027.2,605.9 1028.1,609.3 1029.0,603.9 1029.8,611.2 1030.7,610.4 1031.5,605.4 1032.3,603.0 1033.1,609.4 1034.0,603.7 1034.8,609.0 1035.5,599.8 1036.3,601.7 1037.1,599.9 1037.9,597.3 1038.6,608.3 1039.4,605.1 1040.1,596.0 1040.9,600.0 1041.6,590.1 1042.3,599.7 1043.0,598.6 1043.7,593.3 1044.4,592.7 1045.1,594.2 1045.8,594.3 1046.5,591.2 1047.2,589.2 1047.9,590.5 1048.5,589.1 1049.2,592.1 1049.9,589.0 1050.5,588.7 1051.1,582.0 1051.8,585.1 1052.4,584.3 1053.0,582.9 1053.7,583.2 1054.3,581.7 1054.9,577.2 1055.5,583.5 1056.1,582.5 1056.7,577.5 1057.3,580.0 1057.9,574.9 1058.5,573.3 1059.1,575.6 1059.6,579.8 1060.2,574.5 1060.8,569.9 1061.3,574.1 1061.9,571.2 1062.5,570.2 1063.0,572.4 1063.6,566.2 1064.1,565.4 1064.6,565.7 1065.2,571.7 1065.7,568.5 1066.2,566.1 1066.8,565.3 1067.3,568.0 1067.8,568.9 1068.3,563.3 1068.8,564.7 1069.3,568.4 1069.8,563.4 1070.3,560.2 1070.8,560.8 1071.3,559.2 1071.8,559.5 1072.3,557.8 1072.8,555.0 1073.3,555.3 1073.8,555.8 1074.2,552.9 1074.7,554.0 1075.2,551.3 1075.6,555.3 1076.1,555.4 1076.6,549.8 1077.0,552.8 1077.5,550.8 1077.9,550.1 1078.4,548.9 1078.8,549.3 1079.3,550.0 1079.7,545.1 1080.2,548.6 1080.6,545.6 1081.0,543.4 1081.5,544.7 1081.9,545.3 1082.3,543.3 1082.7,543.3 1083.2,541.6 1083.6,540.6 1084.0,542.6 1084.4,538.7 1084.8,541.3 1085.2,539.6 1085.7,538.0 1086.1,537.5 1086.5,536.7 1086.9,536.5 1087.3,535.9 1087.7,535.2 1088.1,532.0 1088.5,531.2 1088.9,534.3 1089.2,532.3 1089.6,531.9 1090.0,531.9 1090.4,530.1 1090.8,533.2 1091.2,530.5 1091.5,529.8 1091.9,528.1 1092.3,530.1 1092.7,529.4 1093.0,529.8 1093.4,528.6 1093.8,525.9 1094.1,524.9 1094.5,527.6 1094.9,524.6 1095.2,524.8 1095.6,524.2 1096.0,524.5 1096.3,524.0 1096.7,521.8 1097.0,521.7 1097.4,520.1 1097.7,522.1 1098.1,520.8 1098.4,518.8 1098.8,521.1 1099.1,519.6 1099.4,518.2 1099.8,518.4 1100.1,517.8 1100.5,518.1 1100.8,517.8 1101.1,516.7 1101.5,517.2 1101.8,514.2 1102.1,515.7 1102.4,516.3 1102.8,516.1 1103.1,515.6 1103.4,513.6 1103.7,512.6 1104.1,513.5 1104.4,515.4 1104.7,513.2 1105.0,512.0 1105.3,510.8 1105.7,512.0 1106.0,511.1 1106.3,511.6 1106.6,510.9 1106.9,508.5 1107.2,510.0 1107.5,510.3 1107.8,508.9 1108.1,508.1 1108.4,507.7 1108.7,507.3 1109.0,509.6 1109.3,508.7 1109.6,506.8 1109.9,507.9 1110.2,505.8 1110.5,505.8 1110.8,505.3 1111.1,505.4 1111.4,505.7 1111.7,506.3 1112.0,505.0 1112.3,504.1 1112.6,504.0 1112.8,503.4 1113.1,503.6 1113.4,502.4 1113.7,502.9 1114.0,502.8 1114.3,502.8 1114.5,501.3 1114.8,501.9 1115.1,501.5 1115.4,500.5 1115.7,499.5 1115.9,500.1 1116.2,500.8 1116.5,499.8 1116.7,501.1 1117.0,499.7 1117.3,498.7 1117.6,498.8 1117.8,498.9 1118.1,498.6 1118.4,497.9 1118.6,498.1 1118.9,498.8 1119.2,497.8 1119.4,497.2 1119.7,496.6 1119.9,495.8 1120.2,496.7 1120.5,496.2 1120.7,496.2 1121.0,495.8 1121.2,496.3 1121.5,496.3 1121.7,495.2 1122.0,494.7 1122.3,495.4 1122.5,495.7 1122.8,495.1 1123.0,494.9 1123.3,493.9 1123.5,494.1 1123.8,494.5 1124.0,494.2 1124.2,493.9 1124.5,494.0 1124.7,493.9 1125.0,493.4 1125.2,492.9 1125.5,492.5 1125.7,493.0 1126.0,492.7 1126.2,492.5 1126.4,492.8 1126.7,491.9 1126.9,491.9 1127.1,492.1 1127.4,491.3 1127.6,490.7 1127.9,491.1 1128.1,491.4 1128.3,490.7 1128.6,490.7 1128.8,489.9 1129.0,490.9 1129.3,489.6 1129.5,489.8 1129.7,489.8 1129.9,490.4 1130.2,489.6 1130.4,489.2"/>
<polyline fill="none" stroke="#000" stroke-width="1.6" stroke-dasharray="1.4 2.4" points="739.2,481.1 770.1,471.6 792.1,463.3 809.1,471.6 823.1,472.8 834.8,476.0 845.0,475.4 854.0,477.3 861.3,491.5 870.4,483.6 879.5,484.7 890.8,483.6 899.9,488.1 907.8,494.9 912.3,504.0 922.5,503.5 929.3,513.1 936.1,515.3 942.9,523.3 945.9,532.7 948.4,522.6 950.9,527.7 953.2,527.3 955.5,526.7 957.7,528.8 959.9,530.1 962.0,532.4 964.0,534.5 966.0,536.0 967.9,533.1 969.8,535.4 971.6,535.1 973.4,536.1 975.2,537.2 976.9,536.9 978.6,534.7 980.2,539.1 981.8,538.6 983.4,539.9 984.9,540.2 986.5,535.8 987.9,537.9 989.4,537.1 990.8,544.0 992.2,541.2 993.6,542.6 994.9,540.0 996.3,539.5 997.6,542.1 998.9,544.2 1000.1,546.4 1001.4,540.8 1002.6,546.9 1003.8,543.7 1005.0,545.2 1006.1,546.2 1007.3,546.4 1008.4,549.5 1009.5,551.0 1010.6,549.5 1011.7,547.0 1012.8,550.2 1013.8,550.3 1014.9,552.0 1015.9,550.3 1016.9,544.8 1017.9,547.2 1018.9,548.0 1019.9,551.7 1020.8,548.2 1021.8,551.1 1022.7,548.9 1023.6,544.0 1024.6,547.5 1025.5,548.8 1026.4,548.0 1027.2,541.8 1028.1,547.2 1029.0,543.7 1029.8,538.6 1030.7,542.9 1031.5,538.3 1032.3,540.0 1033.1,547.5 1034.0,550.0 1034.8,545.6 1035.5,543.4 1036.3,547.0 1037.1,542.3 1037.9,538.4 1038.6,534.4 1039.4,542.6 1040.1,534.2 1040.9,533.6 1041.6,537.6 1042.3,539.0 1043.0,536.4 1043.7,540.6 1044.4,537.6 1045.1,537.9 1045.8,538.0 1046.5,535.2 1047.2,536.6 1047.9,540.7 1048.5,533.3 1049.2,535.2 1049.9,535.5 1050.5,533.0 1051.1,533.6 1051.8,529.9 1052.4,532.0 1053.0,532.5 1053.7,534.2 1054.3,533.4 1054.9,530.3 1055.5,529.0 1056.1,533.8 1056.7,531.7 1057.3,526.6 1057.9,528.9 1058.5,527.6 1059.1,527.8 1059.6,525.7 1060.2,527.4 1060.8,526.9 1061.3,527.0 1061.9,528.5 1062.5,527.0 1063.0,524.5 1063.6,523.5 1064.1,524.9 1064.6,526.9 1065.2,526.3 1065.7,523.8 1066.2,525.9 1066.8,524.5 1067.3,522.8 1067.8,523.9 1068.3,522.9 1068.8,521.3 1069.3,521.8 1069.8,522.3 1070.3,523.4 1070.8,520.2 1071.3,521.4 1071.8,520.8 1072.3,520.5 1072.8,518.8 1073.3,521.3 1073.8,521.1 1074.2,521.1 1074.7,519.5 1075.2,520.3 1075.6,519.0 1076.1,519.2 1076.6,517.5 1077.0,517.8 1077.5,516.9 1077.9,515.9 1078.4,516.2 1078.8,515.3 1079.3,515.0 1079.7,515.5 1080.2,515.0 1080.6,517.2 1081.0,516.6 1081.5,515.7 1081.9,515.2 1082.3,513.5 1082.7,514.2 1083.2,512.5 1083.6,512.9 1084.0,512.8 1084.4,512.6 1084.8,513.3 1085.2,511.8 1085.7,514.0 1086.1,511.5 1086.5,512.3 1086.9,510.3 1087.3,511.8 1087.7,510.1 1088.1,510.8 1088.5,510.4 1088.9,510.7 1089.2,510.4 1089.6,510.0 1090.0,509.4 1090.4,510.5 1090.8,508.7 1091.2,508.8 1091.5,508.2 1091.9,508.4 1092.3,507.5 1092.7,507.6 1093.0,507.9 1093.4,507.0 1093.8,507.4 1094.1,506.6 1094.5,507.5 1094.9,506.4 1095.2,507.2 1095.6,506.3 1096.0,505.7 1096.3,506.1 1096.7,506.0 1097.0,505.9 1097.4,505.6 1097.7,505.2 1098.1,503.8 1098.4,504.7 1098.8,504.0 1099.1,504.0 1099.4,504.2 1099.8,503.0 1100.1,503.8 1100.5,504.2 1100.8,503.0 1101.1,502.4 1101.5,503.0 1101.8,502.2 1102.1,502.4 1102.4,502.3 1102.8,500.7 1103.1,501.4 1103.4,500.3 1103.7,500.5 1104.1,500.9 1104.4,499.9 1104.7,499.9 1105.0,499.8 1105.3,500.0 1105.7,499.8 1106.0,499.6 1106.3,499.0 1106.6,498.7 1106.9,499.0 1107.2,498.3 1107.5,498.1 1107.8,498.6 1108.1,497.7 1108.4,497.5 1108.7,498.2 1109.0,497.5 1109.3,496.4 1109.6,496.8 1109.9,497.8 1110.2,497.8 1110.5,496.5 1110.8,496.7 1111.1,496.5 1111.4,496.2 1111.7,495.2 1112.0,496.1 1112.3,495.6 1112.6,495.3 1112.8,494.6 1113.1,494.8 1113.4,494.8 1113.7,494.6 1114.0,494.6 1114.3,494.2 1114.5,494.5 1114.8,494.2 1115.1,493.4 1115.4,493.4 1115.7,493.6 1115.9,493.1 1116.2,493.6 1116.5,492.8 1116.7,492.9 1117.0,492.8 1117.3,492.1 1117.6,492.8 1117.8,492.1 1118.1,491.8 1118.4,491.7 1118.6,491.3 1118.9,491.2 1119.2,492.0 1119.4,491.4 1119.7,491.2 1119.9,491.2 1120.2,491.2 1120.5,490.6 1120.7,490.7 1121.0,490.7 1121.2,490.8 1121.5,490.4 1121.7,490.7 1122.0,490.0 1122.3,489.9 1122.5,489.4 1122.8,489.7 1123.0,489.7 1123.3,489.4 1123.5,489.3 1123.8,488.9 1124.0,488.9 1124.2,488.8 1124.5,488.8 1124.7,489.0 1125.0,488.7 1125.2,488.7 1125.5,488.6 1125.7,488.1 1126.0,488.4 1126.2,488.0 1126.4,487.6 1126.7,487.6 1126.9,487.7 1127.1,487.3 1127.4,488.0 1127.6,487.4 1127.9,487.5 1128.1,487.0 1128.3,487.2 1128.6,487.1 1128.8,486.8 1129.0,486.9 1129.3,486.8 1129.5,486.8 1129.7,486.4 1129.9,486.6 1130.2,486.4 1130.4,486.2"/>
<polyline fill="none" stroke="#000" stroke-width="1.75" stroke-dasharray="7 3 1.4 3" points="739.2,494.5 770.1,497.7 792.1,493.2 809.1,498.3 823.1,503.4 834.8,500.2 845.0,504.7 854.0,506.6 861.3,509.7 869.3,500.6 877.2,508.5 886.3,502.9 895.3,507.4 904.4,510.8 911.2,510.8 918.0,516.5 924.8,511.9 931.6,513.1 938.4,510.8 940.7,521.3 943.4,519.3 945.9,524.8 948.4,526.7 950.9,524.8 953.2,527.6 955.5,529.0 957.7,529.6 959.9,531.0 962.0,532.9 964.0,532.0 966.0,531.3 967.9,532.2 969.8,535.7 971.6,535.1 973.4,534.0 975.2,532.2 976.9,537.2 978.6,539.2 980.2,538.2 981.8,538.4 983.4,542.8 984.9,541.3 986.5,540.9 987.9,541.9 989.4,542.5 990.8,544.4 992.2,546.9 993.6,544.0 994.9,544.6 996.3,547.9 997.6,543.4 998.9,544.5 1000.1,548.9 1001.4,546.4 1002.6,546.0 1003.8,544.2 1005.0,543.1 1006.1,547.2 1007.3,541.5 1008.4,545.8 1009.5,544.3 1010.6,545.1 1011.7,542.0 1012.8,547.0 1013.8,546.6 1014.9,546.2 1015.9,546.5 1016.9,543.8 1017.9,546.2 1018.9,546.6 1019.9,545.5 1020.8,541.9 1021.8,545.2 1022.7,545.4 1023.6,543.3 1024.6,545.1 1025.5,547.0 1026.4,544.6 1027.2,546.3 1028.1,542.8 1029.0,541.9 1029.8,543.0 1030.7,540.6 1031.5,538.8 1032.3,541.5 1033.1,540.5 1034.0,540.8 1034.8,538.1 1035.5,538.3 1036.3,539.3 1037.1,537.5 1037.9,537.5 1038.6,537.8 1039.4,536.0 1040.1,537.0 1040.9,534.4 1041.6,536.6 1042.3,538.5 1043.0,536.1 1043.7,534.4 1044.4,532.6 1045.1,532.6 1045.8,533.2 1046.5,532.1 1047.2,533.1 1047.9,532.2 1048.5,532.4 1049.2,530.8 1049.9,531.4 1050.5,531.5 1051.1,528.6 1051.8,529.0 1052.4,528.5 1053.0,528.0 1053.7,528.8 1054.3,526.9 1054.9,525.9 1055.5,525.0 1056.1,524.5 1056.7,525.3 1057.3,525.7 1057.9,524.5 1058.5,523.4 1059.1,523.5 1059.6,522.4 1060.2,523.5 1060.8,522.4 1061.3,523.0 1061.9,522.0 1062.5,521.5 1063.0,519.9 1063.6,520.6 1064.1,519.5 1064.6,519.0 1065.2,519.1 1065.7,519.8 1066.2,518.6 1066.8,519.3 1067.3,517.9 1067.8,516.0 1068.3,516.3 1068.8,517.7 1069.3,516.3 1069.8,515.6 1070.3,514.8 1070.8,514.9 1071.3,514.7 1071.8,513.8 1072.3,513.7 1072.8,513.5 1073.3,512.2 1073.8,512.4 1074.2,511.8 1074.7,511.5 1075.2,510.9 1075.6,510.8 1076.1,510.3 1076.6,511.6 1077.0,510.0 1077.5,510.0 1077.9,508.9 1078.4,509.2 1078.8,509.1 1079.3,509.5 1079.7,509.2 1080.2,507.5 1080.6,508.6 1081.0,507.2 1081.5,507.6 1081.9,506.4 1082.3,506.6 1082.7,505.8 1083.2,504.7 1083.6,505.6 1084.0,504.7 1084.4,504.5 1084.8,504.4 1085.2,504.3 1085.7,504.9 1086.1,502.8 1086.5,502.8 1086.9,502.2 1087.3,503.2 1087.7,502.0 1088.1,501.5 1088.5,501.8 1088.9,501.3 1089.2,501.3 1089.6,499.9 1090.0,500.5 1090.4,500.5 1090.8,499.7 1091.2,500.4 1091.5,499.4 1091.9,498.8 1092.3,498.8 1092.7,499.1 1093.0,499.1 1093.4,498.1 1093.8,498.4 1094.1,497.7 1094.5,497.2 1094.9,496.9 1095.2,497.5 1095.6,496.7 1096.0,496.8 1096.3,497.3 1096.7,496.8 1097.0,495.9 1097.4,495.7 1097.7,495.7 1098.1,494.4 1098.4,495.5 1098.8,494.6 1099.1,495.2 1099.4,494.4 1099.8,494.4 1100.1,494.8 1100.5,494.6 1100.8,495.0 1101.1,493.8 1101.5,493.7 1101.8,494.5 1102.1,493.9 1102.4,493.0 1102.8,493.2 1103.1,493.5 1103.4,493.0 1103.7,492.4 1104.1,493.0 1104.4,493.0 1104.7,493.2 1105.0,493.0 1105.3,492.8 1105.7,492.0 1106.0,491.7 1106.3,491.7 1106.6,492.2 1106.9,492.2 1107.2,491.0 1107.5,491.8 1107.8,491.9 1108.1,492.0 1108.4,491.6 1108.7,491.5 1109.0,491.1 1109.3,490.8 1109.6,490.8 1109.9,490.7 1110.2,490.2 1110.5,490.5 1110.8,490.8 1111.1,490.2 1111.4,490.6 1111.7,489.8 1112.0,490.1 1112.3,489.6 1112.6,490.1 1112.8,489.9 1113.1,489.9 1113.4,489.7 1113.7,489.5 1114.0,489.6 1114.3,489.2 1114.5,488.2 1114.8,488.9 1115.1,489.0 1115.4,487.9 1115.7,489.0 1115.9,488.5 1116.2,488.7 1116.5,488.2 1116.7,488.2 1117.0,487.8 1117.3,487.9 1117.6,487.4 1117.8,487.9 1118.1,487.6 1118.4,487.5 1118.6,487.4 1118.9,487.2 1119.2,487.4 1119.4,487.3 1119.7,487.2 1119.9,487.6 1120.2,486.8 1120.5,486.9 1120.7,486.6 1121.0,486.8 1121.2,486.8 1121.5,486.2 1121.7,486.7 1122.0,486.0 1122.3,486.4 1122.5,486.3 1122.8,486.0 1123.0,486.6 1123.3,486.2 1123.5,485.8 1123.8,486.1 1124.0,486.1 1124.2,485.8 1124.5,485.6 1124.7,486.0 1125.0,486.2 1125.2,485.7 1125.5,486.0 1125.7,485.0 1126.0,485.0 1126.2,485.3 1126.4,485.1 1126.7,485.2 1126.9,485.5 1127.1,484.8 1127.4,485.0 1127.6,484.9 1127.9,484.5 1128.1,484.7 1128.3,484.4 1128.6,484.5 1128.8,484.8 1129.0,484.7 1129.3,484.6 1129.5,484.3 1129.7,484.1 1129.9,484.6 1130.2,484.1 1130.4,484.1"/>
</g>
<g font-size="25" text-anchor="end">
<text x="97.1" y="43.4">1.4</text>
<text x="97.1" y="102.5">1.2</text>
<text x="97.1" y="161.6">1.0</text>
<text x="97.1" y="220.8">0.8</text>
<text x="97.1" y="279.9">0.6</text>
<text x="97.1" y="339.0">0.4</text>
<text x="97.1" y="398.1">0.2</text>
<text x="97.1" y="457.2">0</text>
<text transform="translate(65.6 518.2) scale(1.29 1)">−</text>
<text x="97.1" y="516.4">0.2</text>
<text transform="translate(65.6 577.3) scale(1.29 1)">−</text>
<text x="97.1" y="575.5">0.4</text>
<text transform="translate(65.6 636.4) scale(1.29 1)">−</text>
<text x="97.1" y="634.6">0.6</text>
<text x="708.5" y="43.1">0.7</text>
<text x="708.5" y="102.2">0.6</text>
<text x="708.5" y="161.4">0.5</text>
<text x="708.5" y="220.5">0.4</text>
<text x="708.5" y="279.7">0.3</text>
<text x="708.5" y="338.8">0.2</text>
<text x="708.5" y="397.9">0.1</text>
<text x="708.5" y="457.1">0</text>
<text transform="translate(677.0 518.0) scale(1.29 1)">−</text>
<text x="708.5" y="516.2">0.1</text>
<text transform="translate(677.0 577.2) scale(1.29 1)">−</text>
<text x="708.5" y="575.4">0.2</text>
<text transform="translate(677.0 636.3) scale(1.29 1)">−</text>
<text x="708.5" y="634.5">0.3</text>
</g>
<text x="199.1" y="658.8" font-size="25" text-anchor="middle">10<tspan dy="-9.2" font-size="17">−1</tspan></text>
<text x="374.6" y="658.8" font-size="25" text-anchor="middle">10<tspan dy="-9.2" font-size="17">0</tspan></text>
<text x="550.1" y="658.8" font-size="25" text-anchor="middle">10<tspan dy="-9.2" font-size="17">1</tspan></text>
<text x="810.5" y="658.8" font-size="25" text-anchor="middle">10<tspan dy="-9.2" font-size="17">−1</tspan></text>
<text x="986.0" y="658.8" font-size="25" text-anchor="middle">10<tspan dy="-9.2" font-size="17">0</tspan></text>
<text x="1161.5" y="658.8" font-size="25" text-anchor="middle">10<tspan dy="-9.2" font-size="17">1</tspan></text>
<text transform="translate(328.8 697.4) scale(1.05 1)" font-size="29" font-style="italic" text-anchor="middle">kz</text>
<text transform="translate(940.0 697.4) scale(1.05 1)" font-size="29" font-style="italic" text-anchor="middle">kz</text>
<text x="3.5" y="24.0" font-size="28.5" letter-spacing="0.6"><tspan>(</tspan><tspan font-style="italic">a</tspan><tspan>)</tspan></text>
<text x="615" y="24.0" font-size="28.5" letter-spacing="0.6"><tspan>(</tspan><tspan font-style="italic">b</tspan><tspan>)</tspan></text>
<text transform="translate(0.5 190.2) scale(1.08 1)" font-size="28.5"><tspan font-style="italic">C</tspan><tspan font-size="18" dy="4.2">13</tspan></text>
<text transform="translate(0.5 308.1) scale(1.08 1)" font-size="28.5"><tspan font-style="italic">C</tspan><tspan font-size="18" dy="4.2">33</tspan></text>
<text transform="translate(0.5 426.4) scale(1.08 1)" font-size="28.5"><tspan font-style="italic">C</tspan><tspan font-size="18" dy="4.2">22</tspan></text>
<text transform="translate(0.5 544.6) scale(1.08 1)" font-size="28.5"><tspan font-style="italic">C</tspan><tspan font-size="18" dy="4.2">11</tspan></text>
<text transform="translate(612.0 130.8) scale(1.08 1)" font-size="28.5"><tspan font-style="italic">C</tspan><tspan font-size="18" dy="4.2">13</tspan></text>
<text transform="translate(612.0 308.0) scale(1.08 1)" font-size="28.5"><tspan font-style="italic">C</tspan><tspan font-size="18" dy="4.2">33</tspan></text>
<text transform="translate(612.0 426.3) scale(1.08 1)" font-size="28.5"><tspan font-style="italic">C</tspan><tspan font-size="18" dy="4.2">22</tspan></text>
<text transform="translate(612.0 544.6) scale(1.08 1)" font-size="28.5"><tspan font-style="italic">C</tspan><tspan font-size="18" dy="4.2">11</tspan></text>
</svg></body></html>
